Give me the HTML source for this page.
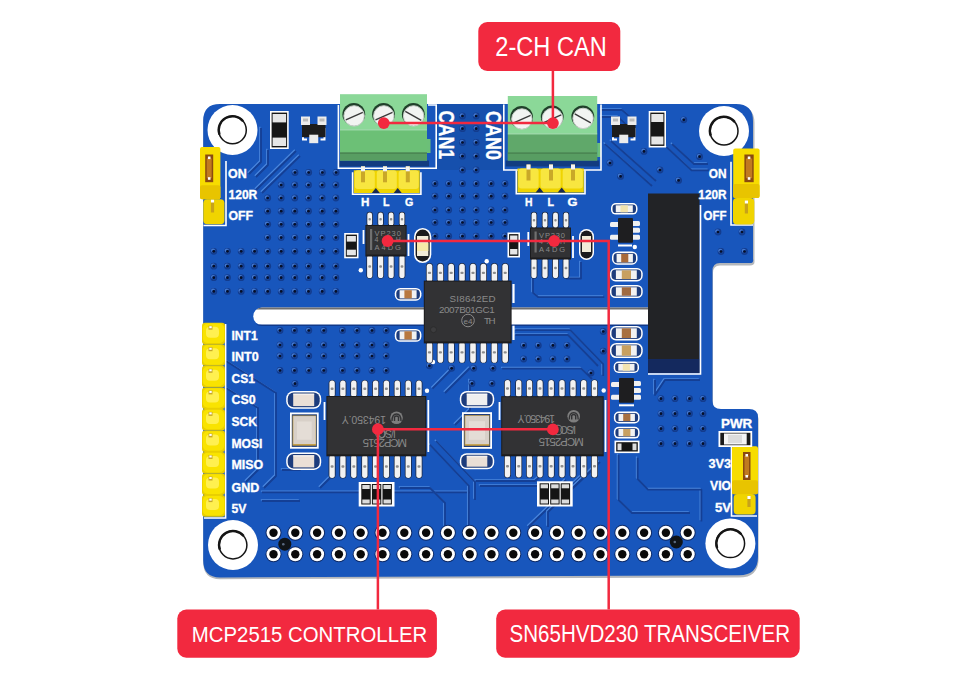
<!DOCTYPE html>
<html><head><meta charset="utf-8">
<style>
html,body{margin:0;padding:0;background:#fff;width:960px;height:683px;overflow:hidden}
svg{display:block}
.sk{font-family:"Liberation Sans",sans-serif;font-weight:bold;fill:#fff;stroke:#fff;stroke-width:0.35px}
.lb{font-family:"Liberation Sans",sans-serif;fill:#fff}
.ct{font-family:"Liberation Sans",sans-serif;fill:#8c8c8c}
</style></head><body>
<svg width="960" height="683" viewBox="0 0 960 683">
<path d="M220,105.5 H737 Q754.5,105.5 754.5,123 V261 Q755,265.5 750,265.5 H720 Q713,265.5 713,273 V403 Q713,410.5 721,410.5 H749 Q758.3,410.5 758.6,419 V558 Q758.8,577.5 739,577.5 L220,579.2 Q203.2,579.2 203.2,562 V123 Q203.2,105.5 220,105.5 Z" fill="#b4b7bb"/>
<path d="M220,104 H736 Q753,104 753,121 V259 Q754,263 750,263 H720 Q712.5,263 712.5,271 V401 Q712.5,409 721,409 H749 Q757.8,409 758,417 V556 Q758.3,575.3 739,575.3 L220,577.4 Q203.2,577.4 203.2,560 V121 Q203,104 220,104 Z" fill="#1856bc"/>
<rect x="437" y="104" width="66" height="66" fill="#1650ad"/>
<g id="traces">
<path d="M261,128 V162 L249,174" stroke="#4a86dc" stroke-width="1.3" fill="none" stroke-linejoin="round" transform="translate(-1.2,-1.2)"/>
<path d="M261,128 V162 L249,174" stroke="#143f95" stroke-width="1.8" fill="none" stroke-linejoin="round"/>
<path d="M268,150 V165 L256,177" stroke="#4a86dc" stroke-width="1.3" fill="none" stroke-linejoin="round" transform="translate(-1.2,-1.2)"/>
<path d="M268,150 V165 L256,177" stroke="#143f95" stroke-width="1.8" fill="none" stroke-linejoin="round"/>
<path d="M296,151 L256,190" stroke="#4a86dc" stroke-width="1.3" fill="none" stroke-linejoin="round" transform="translate(-1.2,-1.2)"/>
<path d="M296,151 L256,190" stroke="#143f95" stroke-width="1.8" fill="none" stroke-linejoin="round"/>
<path d="M300,156 L262,193" stroke="#4a86dc" stroke-width="1.3" fill="none" stroke-linejoin="round" transform="translate(-1.2,-1.2)"/>
<path d="M300,156 L262,193" stroke="#143f95" stroke-width="1.8" fill="none" stroke-linejoin="round"/>
<path d="M601,110 H622 L636,122" stroke="#4a86dc" stroke-width="1.3" fill="none" stroke-linejoin="round" transform="translate(-1.2,-1.2)"/>
<path d="M601,110 H622 L636,122" stroke="#143f95" stroke-width="1.8" fill="none" stroke-linejoin="round"/>
<path d="M601,117 H618 L630,128" stroke="#4a86dc" stroke-width="1.3" fill="none" stroke-linejoin="round" transform="translate(-1.2,-1.2)"/>
<path d="M601,117 H618 L630,128" stroke="#143f95" stroke-width="1.8" fill="none" stroke-linejoin="round"/>
<path d="M604.8,143.8 L652,186" stroke="#4a86dc" stroke-width="1.3" fill="none" stroke-linejoin="round" transform="translate(-1.2,-1.2)"/>
<path d="M604.8,143.8 L652,186" stroke="#143f95" stroke-width="1.8" fill="none" stroke-linejoin="round"/>
<path d="M611,141 L656,181" stroke="#4a86dc" stroke-width="1.3" fill="none" stroke-linejoin="round" transform="translate(-1.2,-1.2)"/>
<path d="M611,141 L656,181" stroke="#143f95" stroke-width="1.8" fill="none" stroke-linejoin="round"/>
<path d="M666.5,147 L691.6,170.3 H708.8" stroke="#4a86dc" stroke-width="1.3" fill="none" stroke-linejoin="round" transform="translate(-1.2,-1.2)"/>
<path d="M666.5,147 L691.6,170.3 H708.8" stroke="#143f95" stroke-width="1.8" fill="none" stroke-linejoin="round"/>
<path d="M672,144 L694,164 H708" stroke="#4a86dc" stroke-width="1.3" fill="none" stroke-linejoin="round" transform="translate(-1.2,-1.2)"/>
<path d="M672,144 L694,164 H708" stroke="#143f95" stroke-width="1.8" fill="none" stroke-linejoin="round"/>
<path d="M226,361 L276,393 V476 L264,488" stroke="#4a86dc" stroke-width="1.3" fill="none" stroke-linejoin="round" transform="translate(-1.2,-1.2)"/>
<path d="M226,361 L276,393 V476 L264,488" stroke="#143f95" stroke-width="1.8" fill="none" stroke-linejoin="round"/>
<path d="M226,388 L258,408 V470 L246,482" stroke="#4a86dc" stroke-width="1.3" fill="none" stroke-linejoin="round" transform="translate(-1.2,-1.2)"/>
<path d="M226,388 L258,408 V470 L246,482" stroke="#143f95" stroke-width="1.8" fill="none" stroke-linejoin="round"/>
<path d="M262,492.4 H470" stroke="#4a86dc" stroke-width="1.3" fill="none" stroke-linejoin="round" transform="translate(-1.2,-1.2)"/>
<path d="M262,492.4 H470" stroke="#143f95" stroke-width="1.8" fill="none" stroke-linejoin="round"/>
<path d="M262,501 H300" stroke="#4a86dc" stroke-width="1.3" fill="none" stroke-linejoin="round" transform="translate(-1.2,-1.2)"/>
<path d="M262,501 H300" stroke="#143f95" stroke-width="1.8" fill="none" stroke-linejoin="round"/>
<path d="M429.8,444.6 L468.8,485.9 V527" stroke="#4a86dc" stroke-width="1.3" fill="none" stroke-linejoin="round" transform="translate(-1.2,-1.2)"/>
<path d="M429.8,444.6 L468.8,485.9 V527" stroke="#143f95" stroke-width="1.8" fill="none" stroke-linejoin="round"/>
<path d="M436,441 L475,482 V500" stroke="#4a86dc" stroke-width="1.3" fill="none" stroke-linejoin="round" transform="translate(-1.2,-1.2)"/>
<path d="M436,441 L475,482 V500" stroke="#143f95" stroke-width="1.8" fill="none" stroke-linejoin="round"/>
<path d="M475.7,481 H535 L541,476" stroke="#4a86dc" stroke-width="1.3" fill="none" stroke-linejoin="round" transform="translate(-1.2,-1.2)"/>
<path d="M475.7,481 H535 L541,476" stroke="#143f95" stroke-width="1.8" fill="none" stroke-linejoin="round"/>
<path d="M480,486 H560 L566,480" stroke="#4a86dc" stroke-width="1.3" fill="none" stroke-linejoin="round" transform="translate(-1.2,-1.2)"/>
<path d="M480,486 H560 L566,480" stroke="#143f95" stroke-width="1.8" fill="none" stroke-linejoin="round"/>
<path d="M581,476.7 L528.4,527" stroke="#4a86dc" stroke-width="1.3" fill="none" stroke-linejoin="round" transform="translate(-1.2,-1.2)"/>
<path d="M581,476.7 L528.4,527" stroke="#143f95" stroke-width="1.8" fill="none" stroke-linejoin="round"/>
<path d="M592,470 L548,512 V527" stroke="#4a86dc" stroke-width="1.3" fill="none" stroke-linejoin="round" transform="translate(-1.2,-1.2)"/>
<path d="M592,470 L548,512 V527" stroke="#143f95" stroke-width="1.8" fill="none" stroke-linejoin="round"/>
<path d="M600,462 L560,500" stroke="#4a86dc" stroke-width="1.3" fill="none" stroke-linejoin="round" transform="translate(-1.2,-1.2)"/>
<path d="M600,462 L560,500" stroke="#143f95" stroke-width="1.8" fill="none" stroke-linejoin="round"/>
<path d="M400,488 H430 L445,503 V527" stroke="#4a86dc" stroke-width="1.3" fill="none" stroke-linejoin="round" transform="translate(-1.2,-1.2)"/>
<path d="M400,488 H430 L445,503 V527" stroke="#143f95" stroke-width="1.8" fill="none" stroke-linejoin="round"/>
<path d="M637.7,457.7 V479 L648,489.6 H701.4 V521.4" stroke="#4a86dc" stroke-width="1.3" fill="none" stroke-linejoin="round" transform="translate(-1.2,-1.2)"/>
<path d="M637.7,457.7 V479 L648,489.6 H701.4 V521.4" stroke="#143f95" stroke-width="1.8" fill="none" stroke-linejoin="round"/>
<path d="M618.6,455 V500 L632,513 H690" stroke="#4a86dc" stroke-width="1.3" fill="none" stroke-linejoin="round" transform="translate(-1.2,-1.2)"/>
<path d="M618.6,455 V500 L632,513 H690" stroke="#143f95" stroke-width="1.8" fill="none" stroke-linejoin="round"/>
<path d="M533,274 V292.8 L538.4,297.2 H604.3" stroke="#4a86dc" stroke-width="1.3" fill="none" stroke-linejoin="round" transform="translate(-1.2,-1.2)"/>
<path d="M533,274 V292.8 L538.4,297.2 H604.3" stroke="#143f95" stroke-width="1.8" fill="none" stroke-linejoin="round"/>
<path d="M566,278.5 H581 V262" stroke="#4a86dc" stroke-width="1.3" fill="none" stroke-linejoin="round" transform="translate(-1.2,-1.2)"/>
<path d="M566,278.5 H581 V262" stroke="#143f95" stroke-width="1.8" fill="none" stroke-linejoin="round"/>
<path d="M515.4,330.2 H570.3 L603.2,364.2 V376" stroke="#4a86dc" stroke-width="1.3" fill="none" stroke-linejoin="round" transform="translate(-1.2,-1.2)"/>
<path d="M515.4,330.2 H570.3 L603.2,364.2 V376" stroke="#143f95" stroke-width="1.8" fill="none" stroke-linejoin="round"/>
<path d="M515.4,335 H568 L598,366" stroke="#4a86dc" stroke-width="1.3" fill="none" stroke-linejoin="round" transform="translate(-1.2,-1.2)"/>
<path d="M515.4,335 H568 L598,366" stroke="#143f95" stroke-width="1.8" fill="none" stroke-linejoin="round"/>
<path d="M502.2,368.6 H581.3 L592,379" stroke="#4a86dc" stroke-width="1.3" fill="none" stroke-linejoin="round" transform="translate(-1.2,-1.2)"/>
<path d="M502.2,368.6 H581.3 L592,379" stroke="#143f95" stroke-width="1.8" fill="none" stroke-linejoin="round"/>
<path d="M453,368 L432.5,388.7" stroke="#4a86dc" stroke-width="1.3" fill="none" stroke-linejoin="round" transform="translate(-1.2,-1.2)"/>
<path d="M453,368 L432.5,388.7" stroke="#143f95" stroke-width="1.8" fill="none" stroke-linejoin="round"/>
<path d="M470,368 L445,393" stroke="#4a86dc" stroke-width="1.3" fill="none" stroke-linejoin="round" transform="translate(-1.2,-1.2)"/>
<path d="M470,368 L445,393" stroke="#143f95" stroke-width="1.8" fill="none" stroke-linejoin="round"/>
<path d="M470,380 V410 L455,425" stroke="#4a86dc" stroke-width="1.3" fill="none" stroke-linejoin="round" transform="translate(-1.2,-1.2)"/>
<path d="M470,380 V410 L455,425" stroke="#143f95" stroke-width="1.8" fill="none" stroke-linejoin="round"/>
<path d="M655,380 V395 L665,380 H700" stroke="#4a86dc" stroke-width="1.3" fill="none" stroke-linejoin="round" transform="translate(-1.2,-1.2)"/>
<path d="M655,380 V395 L665,380 H700" stroke="#143f95" stroke-width="1.8" fill="none" stroke-linejoin="round"/>
<path d="M306,456 L300,470 H282" stroke="#4a86dc" stroke-width="1.3" fill="none" stroke-linejoin="round" transform="translate(-1.2,-1.2)"/>
<path d="M306,456 L300,470 H282" stroke="#143f95" stroke-width="1.8" fill="none" stroke-linejoin="round"/>
<path d="M330,478 L320,488" stroke="#4a86dc" stroke-width="1.3" fill="none" stroke-linejoin="round" transform="translate(-1.2,-1.2)"/>
<path d="M330,478 L320,488" stroke="#143f95" stroke-width="1.8" fill="none" stroke-linejoin="round"/>
</g>
<g id="vias">
<circle cx="295" cy="172.5" r="3.4" fill="#133c8e"/><circle cx="294.3" cy="171.8" r="2.1" fill="#4278d0"/><circle cx="295.3" cy="172.8" r="1.9" fill="#16449a"/><circle cx="295" cy="172.5" r="1.35" fill="#060f28"/>
<circle cx="308.7" cy="172.5" r="3.4" fill="#133c8e"/><circle cx="308.0" cy="171.8" r="2.1" fill="#4278d0"/><circle cx="309.0" cy="172.8" r="1.9" fill="#16449a"/><circle cx="308.7" cy="172.5" r="1.35" fill="#060f28"/>
<circle cx="322.4" cy="172.5" r="3.4" fill="#133c8e"/><circle cx="321.7" cy="171.8" r="2.1" fill="#4278d0"/><circle cx="322.7" cy="172.8" r="1.9" fill="#16449a"/><circle cx="322.4" cy="172.5" r="1.35" fill="#060f28"/>
<circle cx="336.1" cy="172.5" r="3.4" fill="#133c8e"/><circle cx="335.40000000000003" cy="171.8" r="2.1" fill="#4278d0"/><circle cx="336.40000000000003" cy="172.8" r="1.9" fill="#16449a"/><circle cx="336.1" cy="172.5" r="1.35" fill="#060f28"/>
<circle cx="281.2" cy="185" r="3.4" fill="#133c8e"/><circle cx="280.5" cy="184.3" r="2.1" fill="#4278d0"/><circle cx="281.5" cy="185.3" r="1.9" fill="#16449a"/><circle cx="281.2" cy="185" r="1.35" fill="#060f28"/>
<circle cx="294.8" cy="185" r="3.4" fill="#133c8e"/><circle cx="294.1" cy="184.3" r="2.1" fill="#4278d0"/><circle cx="295.1" cy="185.3" r="1.9" fill="#16449a"/><circle cx="294.8" cy="185" r="1.35" fill="#060f28"/>
<circle cx="308.5" cy="185" r="3.4" fill="#133c8e"/><circle cx="307.8" cy="184.3" r="2.1" fill="#4278d0"/><circle cx="308.8" cy="185.3" r="1.9" fill="#16449a"/><circle cx="308.5" cy="185" r="1.35" fill="#060f28"/>
<circle cx="322.2" cy="185" r="3.4" fill="#133c8e"/><circle cx="321.5" cy="184.3" r="2.1" fill="#4278d0"/><circle cx="322.5" cy="185.3" r="1.9" fill="#16449a"/><circle cx="322.2" cy="185" r="1.35" fill="#060f28"/>
<circle cx="335.9" cy="185" r="3.4" fill="#133c8e"/><circle cx="335.2" cy="184.3" r="2.1" fill="#4278d0"/><circle cx="336.2" cy="185.3" r="1.9" fill="#16449a"/><circle cx="335.9" cy="185" r="1.35" fill="#060f28"/>
<circle cx="267.7" cy="198" r="3.4" fill="#133c8e"/><circle cx="267.0" cy="197.3" r="2.1" fill="#4278d0"/><circle cx="268.0" cy="198.3" r="1.9" fill="#16449a"/><circle cx="267.7" cy="198" r="1.35" fill="#060f28"/>
<circle cx="281.2" cy="198" r="3.4" fill="#133c8e"/><circle cx="280.5" cy="197.3" r="2.1" fill="#4278d0"/><circle cx="281.5" cy="198.3" r="1.9" fill="#16449a"/><circle cx="281.2" cy="198" r="1.35" fill="#060f28"/>
<circle cx="294.8" cy="198" r="3.4" fill="#133c8e"/><circle cx="294.1" cy="197.3" r="2.1" fill="#4278d0"/><circle cx="295.1" cy="198.3" r="1.9" fill="#16449a"/><circle cx="294.8" cy="198" r="1.35" fill="#060f28"/>
<circle cx="308.5" cy="198" r="3.4" fill="#133c8e"/><circle cx="307.8" cy="197.3" r="2.1" fill="#4278d0"/><circle cx="308.8" cy="198.3" r="1.9" fill="#16449a"/><circle cx="308.5" cy="198" r="1.35" fill="#060f28"/>
<circle cx="322.2" cy="198" r="3.4" fill="#133c8e"/><circle cx="321.5" cy="197.3" r="2.1" fill="#4278d0"/><circle cx="322.5" cy="198.3" r="1.9" fill="#16449a"/><circle cx="322.2" cy="198" r="1.35" fill="#060f28"/>
<circle cx="335.9" cy="198" r="3.4" fill="#133c8e"/><circle cx="335.2" cy="197.3" r="2.1" fill="#4278d0"/><circle cx="336.2" cy="198.3" r="1.9" fill="#16449a"/><circle cx="335.9" cy="198" r="1.35" fill="#060f28"/>
<circle cx="267.7" cy="211.2" r="3.4" fill="#133c8e"/><circle cx="267.0" cy="210.5" r="2.1" fill="#4278d0"/><circle cx="268.0" cy="211.5" r="1.9" fill="#16449a"/><circle cx="267.7" cy="211.2" r="1.35" fill="#060f28"/>
<circle cx="281.2" cy="211.2" r="3.4" fill="#133c8e"/><circle cx="280.5" cy="210.5" r="2.1" fill="#4278d0"/><circle cx="281.5" cy="211.5" r="1.9" fill="#16449a"/><circle cx="281.2" cy="211.2" r="1.35" fill="#060f28"/>
<circle cx="294.8" cy="211.2" r="3.4" fill="#133c8e"/><circle cx="294.1" cy="210.5" r="2.1" fill="#4278d0"/><circle cx="295.1" cy="211.5" r="1.9" fill="#16449a"/><circle cx="294.8" cy="211.2" r="1.35" fill="#060f28"/>
<circle cx="308.5" cy="211.2" r="3.4" fill="#133c8e"/><circle cx="307.8" cy="210.5" r="2.1" fill="#4278d0"/><circle cx="308.8" cy="211.5" r="1.9" fill="#16449a"/><circle cx="308.5" cy="211.2" r="1.35" fill="#060f28"/>
<circle cx="322.2" cy="211.2" r="3.4" fill="#133c8e"/><circle cx="321.5" cy="210.5" r="2.1" fill="#4278d0"/><circle cx="322.5" cy="211.5" r="1.9" fill="#16449a"/><circle cx="322.2" cy="211.2" r="1.35" fill="#060f28"/>
<circle cx="335.9" cy="211.2" r="3.4" fill="#133c8e"/><circle cx="335.2" cy="210.5" r="2.1" fill="#4278d0"/><circle cx="336.2" cy="211.5" r="1.9" fill="#16449a"/><circle cx="335.9" cy="211.2" r="1.35" fill="#060f28"/>
<circle cx="267.7" cy="224.3" r="3.4" fill="#133c8e"/><circle cx="267.0" cy="223.60000000000002" r="2.1" fill="#4278d0"/><circle cx="268.0" cy="224.60000000000002" r="1.9" fill="#16449a"/><circle cx="267.7" cy="224.3" r="1.35" fill="#060f28"/>
<circle cx="281.2" cy="224.3" r="3.4" fill="#133c8e"/><circle cx="280.5" cy="223.60000000000002" r="2.1" fill="#4278d0"/><circle cx="281.5" cy="224.60000000000002" r="1.9" fill="#16449a"/><circle cx="281.2" cy="224.3" r="1.35" fill="#060f28"/>
<circle cx="294.8" cy="224.3" r="3.4" fill="#133c8e"/><circle cx="294.1" cy="223.60000000000002" r="2.1" fill="#4278d0"/><circle cx="295.1" cy="224.60000000000002" r="1.9" fill="#16449a"/><circle cx="294.8" cy="224.3" r="1.35" fill="#060f28"/>
<circle cx="308.5" cy="224.3" r="3.4" fill="#133c8e"/><circle cx="307.8" cy="223.60000000000002" r="2.1" fill="#4278d0"/><circle cx="308.8" cy="224.60000000000002" r="1.9" fill="#16449a"/><circle cx="308.5" cy="224.3" r="1.35" fill="#060f28"/>
<circle cx="322.2" cy="224.3" r="3.4" fill="#133c8e"/><circle cx="321.5" cy="223.60000000000002" r="2.1" fill="#4278d0"/><circle cx="322.5" cy="224.60000000000002" r="1.9" fill="#16449a"/><circle cx="322.2" cy="224.3" r="1.35" fill="#060f28"/>
<circle cx="335.9" cy="224.3" r="3.4" fill="#133c8e"/><circle cx="335.2" cy="223.60000000000002" r="2.1" fill="#4278d0"/><circle cx="336.2" cy="224.60000000000002" r="1.9" fill="#16449a"/><circle cx="335.9" cy="224.3" r="1.35" fill="#060f28"/>
<circle cx="267.7" cy="237.6" r="3.4" fill="#133c8e"/><circle cx="267.0" cy="236.9" r="2.1" fill="#4278d0"/><circle cx="268.0" cy="237.9" r="1.9" fill="#16449a"/><circle cx="267.7" cy="237.6" r="1.35" fill="#060f28"/>
<circle cx="281.2" cy="237.6" r="3.4" fill="#133c8e"/><circle cx="280.5" cy="236.9" r="2.1" fill="#4278d0"/><circle cx="281.5" cy="237.9" r="1.9" fill="#16449a"/><circle cx="281.2" cy="237.6" r="1.35" fill="#060f28"/>
<circle cx="294.8" cy="237.6" r="3.4" fill="#133c8e"/><circle cx="294.1" cy="236.9" r="2.1" fill="#4278d0"/><circle cx="295.1" cy="237.9" r="1.9" fill="#16449a"/><circle cx="294.8" cy="237.6" r="1.35" fill="#060f28"/>
<circle cx="308.5" cy="237.6" r="3.4" fill="#133c8e"/><circle cx="307.8" cy="236.9" r="2.1" fill="#4278d0"/><circle cx="308.8" cy="237.9" r="1.9" fill="#16449a"/><circle cx="308.5" cy="237.6" r="1.35" fill="#060f28"/>
<circle cx="322.2" cy="237.6" r="3.4" fill="#133c8e"/><circle cx="321.5" cy="236.9" r="2.1" fill="#4278d0"/><circle cx="322.5" cy="237.9" r="1.9" fill="#16449a"/><circle cx="322.2" cy="237.6" r="1.35" fill="#060f28"/>
<circle cx="335.9" cy="237.6" r="3.4" fill="#133c8e"/><circle cx="335.2" cy="236.9" r="2.1" fill="#4278d0"/><circle cx="336.2" cy="237.9" r="1.9" fill="#16449a"/><circle cx="335.9" cy="237.6" r="1.35" fill="#060f28"/>
<circle cx="213.8" cy="251.3" r="3.4" fill="#133c8e"/><circle cx="213.10000000000002" cy="250.60000000000002" r="2.1" fill="#4278d0"/><circle cx="214.10000000000002" cy="251.60000000000002" r="1.9" fill="#16449a"/><circle cx="213.8" cy="251.3" r="1.35" fill="#060f28"/>
<circle cx="227.5" cy="251.3" r="3.4" fill="#133c8e"/><circle cx="226.8" cy="250.60000000000002" r="2.1" fill="#4278d0"/><circle cx="227.8" cy="251.60000000000002" r="1.9" fill="#16449a"/><circle cx="227.5" cy="251.3" r="1.35" fill="#060f28"/>
<circle cx="241.2" cy="251.3" r="3.4" fill="#133c8e"/><circle cx="240.5" cy="250.60000000000002" r="2.1" fill="#4278d0"/><circle cx="241.5" cy="251.60000000000002" r="1.9" fill="#16449a"/><circle cx="241.2" cy="251.3" r="1.35" fill="#060f28"/>
<circle cx="254.6" cy="251.3" r="3.4" fill="#133c8e"/><circle cx="253.9" cy="250.60000000000002" r="2.1" fill="#4278d0"/><circle cx="254.9" cy="251.60000000000002" r="1.9" fill="#16449a"/><circle cx="254.6" cy="251.3" r="1.35" fill="#060f28"/>
<circle cx="267.7" cy="251.3" r="3.4" fill="#133c8e"/><circle cx="267.0" cy="250.60000000000002" r="2.1" fill="#4278d0"/><circle cx="268.0" cy="251.60000000000002" r="1.9" fill="#16449a"/><circle cx="267.7" cy="251.3" r="1.35" fill="#060f28"/>
<circle cx="281.2" cy="251.3" r="3.4" fill="#133c8e"/><circle cx="280.5" cy="250.60000000000002" r="2.1" fill="#4278d0"/><circle cx="281.5" cy="251.60000000000002" r="1.9" fill="#16449a"/><circle cx="281.2" cy="251.3" r="1.35" fill="#060f28"/>
<circle cx="294.8" cy="251.3" r="3.4" fill="#133c8e"/><circle cx="294.1" cy="250.60000000000002" r="2.1" fill="#4278d0"/><circle cx="295.1" cy="251.60000000000002" r="1.9" fill="#16449a"/><circle cx="294.8" cy="251.3" r="1.35" fill="#060f28"/>
<circle cx="308.5" cy="251.3" r="3.4" fill="#133c8e"/><circle cx="307.8" cy="250.60000000000002" r="2.1" fill="#4278d0"/><circle cx="308.8" cy="251.60000000000002" r="1.9" fill="#16449a"/><circle cx="308.5" cy="251.3" r="1.35" fill="#060f28"/>
<circle cx="322.2" cy="251.3" r="3.4" fill="#133c8e"/><circle cx="321.5" cy="250.60000000000002" r="2.1" fill="#4278d0"/><circle cx="322.5" cy="251.60000000000002" r="1.9" fill="#16449a"/><circle cx="322.2" cy="251.3" r="1.35" fill="#060f28"/>
<circle cx="335.9" cy="251.3" r="3.4" fill="#133c8e"/><circle cx="335.2" cy="250.60000000000002" r="2.1" fill="#4278d0"/><circle cx="336.2" cy="251.60000000000002" r="1.9" fill="#16449a"/><circle cx="335.9" cy="251.3" r="1.35" fill="#060f28"/>
<circle cx="213.8" cy="266.2" r="3.4" fill="#133c8e"/><circle cx="213.10000000000002" cy="265.5" r="2.1" fill="#4278d0"/><circle cx="214.10000000000002" cy="266.5" r="1.9" fill="#16449a"/><circle cx="213.8" cy="266.2" r="1.35" fill="#060f28"/>
<circle cx="227.5" cy="266.2" r="3.4" fill="#133c8e"/><circle cx="226.8" cy="265.5" r="2.1" fill="#4278d0"/><circle cx="227.8" cy="266.5" r="1.9" fill="#16449a"/><circle cx="227.5" cy="266.2" r="1.35" fill="#060f28"/>
<circle cx="241.2" cy="266.2" r="3.4" fill="#133c8e"/><circle cx="240.5" cy="265.5" r="2.1" fill="#4278d0"/><circle cx="241.5" cy="266.5" r="1.9" fill="#16449a"/><circle cx="241.2" cy="266.2" r="1.35" fill="#060f28"/>
<circle cx="254.6" cy="266.2" r="3.4" fill="#133c8e"/><circle cx="253.9" cy="265.5" r="2.1" fill="#4278d0"/><circle cx="254.9" cy="266.5" r="1.9" fill="#16449a"/><circle cx="254.6" cy="266.2" r="1.35" fill="#060f28"/>
<circle cx="267.7" cy="266.2" r="3.4" fill="#133c8e"/><circle cx="267.0" cy="265.5" r="2.1" fill="#4278d0"/><circle cx="268.0" cy="266.5" r="1.9" fill="#16449a"/><circle cx="267.7" cy="266.2" r="1.35" fill="#060f28"/>
<circle cx="281.2" cy="266.2" r="3.4" fill="#133c8e"/><circle cx="280.5" cy="265.5" r="2.1" fill="#4278d0"/><circle cx="281.5" cy="266.5" r="1.9" fill="#16449a"/><circle cx="281.2" cy="266.2" r="1.35" fill="#060f28"/>
<circle cx="294.8" cy="266.2" r="3.4" fill="#133c8e"/><circle cx="294.1" cy="265.5" r="2.1" fill="#4278d0"/><circle cx="295.1" cy="266.5" r="1.9" fill="#16449a"/><circle cx="294.8" cy="266.2" r="1.35" fill="#060f28"/>
<circle cx="308.5" cy="266.2" r="3.4" fill="#133c8e"/><circle cx="307.8" cy="265.5" r="2.1" fill="#4278d0"/><circle cx="308.8" cy="266.5" r="1.9" fill="#16449a"/><circle cx="308.5" cy="266.2" r="1.35" fill="#060f28"/>
<circle cx="322.2" cy="266.2" r="3.4" fill="#133c8e"/><circle cx="321.5" cy="265.5" r="2.1" fill="#4278d0"/><circle cx="322.5" cy="266.5" r="1.9" fill="#16449a"/><circle cx="322.2" cy="266.2" r="1.35" fill="#060f28"/>
<circle cx="335.9" cy="266.2" r="3.4" fill="#133c8e"/><circle cx="335.2" cy="265.5" r="2.1" fill="#4278d0"/><circle cx="336.2" cy="266.5" r="1.9" fill="#16449a"/><circle cx="335.9" cy="266.2" r="1.35" fill="#060f28"/>
<circle cx="213.8" cy="277.7" r="3.4" fill="#133c8e"/><circle cx="213.10000000000002" cy="277.0" r="2.1" fill="#4278d0"/><circle cx="214.10000000000002" cy="278.0" r="1.9" fill="#16449a"/><circle cx="213.8" cy="277.7" r="1.35" fill="#060f28"/>
<circle cx="227.5" cy="277.7" r="3.4" fill="#133c8e"/><circle cx="226.8" cy="277.0" r="2.1" fill="#4278d0"/><circle cx="227.8" cy="278.0" r="1.9" fill="#16449a"/><circle cx="227.5" cy="277.7" r="1.35" fill="#060f28"/>
<circle cx="241.2" cy="277.7" r="3.4" fill="#133c8e"/><circle cx="240.5" cy="277.0" r="2.1" fill="#4278d0"/><circle cx="241.5" cy="278.0" r="1.9" fill="#16449a"/><circle cx="241.2" cy="277.7" r="1.35" fill="#060f28"/>
<circle cx="254.6" cy="277.7" r="3.4" fill="#133c8e"/><circle cx="253.9" cy="277.0" r="2.1" fill="#4278d0"/><circle cx="254.9" cy="278.0" r="1.9" fill="#16449a"/><circle cx="254.6" cy="277.7" r="1.35" fill="#060f28"/>
<circle cx="267.7" cy="277.7" r="3.4" fill="#133c8e"/><circle cx="267.0" cy="277.0" r="2.1" fill="#4278d0"/><circle cx="268.0" cy="278.0" r="1.9" fill="#16449a"/><circle cx="267.7" cy="277.7" r="1.35" fill="#060f28"/>
<circle cx="281.2" cy="277.7" r="3.4" fill="#133c8e"/><circle cx="280.5" cy="277.0" r="2.1" fill="#4278d0"/><circle cx="281.5" cy="278.0" r="1.9" fill="#16449a"/><circle cx="281.2" cy="277.7" r="1.35" fill="#060f28"/>
<circle cx="294.8" cy="277.7" r="3.4" fill="#133c8e"/><circle cx="294.1" cy="277.0" r="2.1" fill="#4278d0"/><circle cx="295.1" cy="278.0" r="1.9" fill="#16449a"/><circle cx="294.8" cy="277.7" r="1.35" fill="#060f28"/>
<circle cx="308.5" cy="277.7" r="3.4" fill="#133c8e"/><circle cx="307.8" cy="277.0" r="2.1" fill="#4278d0"/><circle cx="308.8" cy="278.0" r="1.9" fill="#16449a"/><circle cx="308.5" cy="277.7" r="1.35" fill="#060f28"/>
<circle cx="322.2" cy="277.7" r="3.4" fill="#133c8e"/><circle cx="321.5" cy="277.0" r="2.1" fill="#4278d0"/><circle cx="322.5" cy="278.0" r="1.9" fill="#16449a"/><circle cx="322.2" cy="277.7" r="1.35" fill="#060f28"/>
<circle cx="335.9" cy="277.7" r="3.4" fill="#133c8e"/><circle cx="335.2" cy="277.0" r="2.1" fill="#4278d0"/><circle cx="336.2" cy="278.0" r="1.9" fill="#16449a"/><circle cx="335.9" cy="277.7" r="1.35" fill="#060f28"/>
<circle cx="213.8" cy="291.4" r="3.4" fill="#133c8e"/><circle cx="213.10000000000002" cy="290.7" r="2.1" fill="#4278d0"/><circle cx="214.10000000000002" cy="291.7" r="1.9" fill="#16449a"/><circle cx="213.8" cy="291.4" r="1.35" fill="#060f28"/>
<circle cx="227.5" cy="291.4" r="3.4" fill="#133c8e"/><circle cx="226.8" cy="290.7" r="2.1" fill="#4278d0"/><circle cx="227.8" cy="291.7" r="1.9" fill="#16449a"/><circle cx="227.5" cy="291.4" r="1.35" fill="#060f28"/>
<circle cx="241.2" cy="291.4" r="3.4" fill="#133c8e"/><circle cx="240.5" cy="290.7" r="2.1" fill="#4278d0"/><circle cx="241.5" cy="291.7" r="1.9" fill="#16449a"/><circle cx="241.2" cy="291.4" r="1.35" fill="#060f28"/>
<circle cx="254.6" cy="291.4" r="3.4" fill="#133c8e"/><circle cx="253.9" cy="290.7" r="2.1" fill="#4278d0"/><circle cx="254.9" cy="291.7" r="1.9" fill="#16449a"/><circle cx="254.6" cy="291.4" r="1.35" fill="#060f28"/>
<circle cx="267.7" cy="291.4" r="3.4" fill="#133c8e"/><circle cx="267.0" cy="290.7" r="2.1" fill="#4278d0"/><circle cx="268.0" cy="291.7" r="1.9" fill="#16449a"/><circle cx="267.7" cy="291.4" r="1.35" fill="#060f28"/>
<circle cx="281.2" cy="291.4" r="3.4" fill="#133c8e"/><circle cx="280.5" cy="290.7" r="2.1" fill="#4278d0"/><circle cx="281.5" cy="291.7" r="1.9" fill="#16449a"/><circle cx="281.2" cy="291.4" r="1.35" fill="#060f28"/>
<circle cx="294.8" cy="291.4" r="3.4" fill="#133c8e"/><circle cx="294.1" cy="290.7" r="2.1" fill="#4278d0"/><circle cx="295.1" cy="291.7" r="1.9" fill="#16449a"/><circle cx="294.8" cy="291.4" r="1.35" fill="#060f28"/>
<circle cx="308.5" cy="291.4" r="3.4" fill="#133c8e"/><circle cx="307.8" cy="290.7" r="2.1" fill="#4278d0"/><circle cx="308.8" cy="291.7" r="1.9" fill="#16449a"/><circle cx="308.5" cy="291.4" r="1.35" fill="#060f28"/>
<circle cx="322.2" cy="291.4" r="3.4" fill="#133c8e"/><circle cx="321.5" cy="290.7" r="2.1" fill="#4278d0"/><circle cx="322.5" cy="291.7" r="1.9" fill="#16449a"/><circle cx="322.2" cy="291.4" r="1.35" fill="#060f28"/>
<circle cx="335.9" cy="291.4" r="3.4" fill="#133c8e"/><circle cx="335.2" cy="290.7" r="2.1" fill="#4278d0"/><circle cx="336.2" cy="291.7" r="1.9" fill="#16449a"/><circle cx="335.9" cy="291.4" r="1.35" fill="#060f28"/>
<circle cx="462.5" cy="116" r="3.4" fill="#133c8e"/><circle cx="461.8" cy="115.3" r="2.1" fill="#4278d0"/><circle cx="462.8" cy="116.3" r="1.9" fill="#16449a"/><circle cx="462.5" cy="116" r="1.35" fill="#060f28"/>
<circle cx="476.2" cy="116" r="3.4" fill="#133c8e"/><circle cx="475.5" cy="115.3" r="2.1" fill="#4278d0"/><circle cx="476.5" cy="116.3" r="1.9" fill="#16449a"/><circle cx="476.2" cy="116" r="1.35" fill="#060f28"/>
<circle cx="462.5" cy="128.7" r="3.4" fill="#133c8e"/><circle cx="461.8" cy="127.99999999999999" r="2.1" fill="#4278d0"/><circle cx="462.8" cy="129.0" r="1.9" fill="#16449a"/><circle cx="462.5" cy="128.7" r="1.35" fill="#060f28"/>
<circle cx="476.2" cy="128.7" r="3.4" fill="#133c8e"/><circle cx="475.5" cy="127.99999999999999" r="2.1" fill="#4278d0"/><circle cx="476.5" cy="129.0" r="1.9" fill="#16449a"/><circle cx="476.2" cy="128.7" r="1.35" fill="#060f28"/>
<circle cx="462.5" cy="142.5" r="3.4" fill="#133c8e"/><circle cx="461.8" cy="141.8" r="2.1" fill="#4278d0"/><circle cx="462.8" cy="142.8" r="1.9" fill="#16449a"/><circle cx="462.5" cy="142.5" r="1.35" fill="#060f28"/>
<circle cx="476.2" cy="142.5" r="3.4" fill="#133c8e"/><circle cx="475.5" cy="141.8" r="2.1" fill="#4278d0"/><circle cx="476.5" cy="142.8" r="1.9" fill="#16449a"/><circle cx="476.2" cy="142.5" r="1.35" fill="#060f28"/>
<circle cx="462.5" cy="156.2" r="3.4" fill="#133c8e"/><circle cx="461.8" cy="155.5" r="2.1" fill="#4278d0"/><circle cx="462.8" cy="156.5" r="1.9" fill="#16449a"/><circle cx="462.5" cy="156.2" r="1.35" fill="#060f28"/>
<circle cx="476.2" cy="156.2" r="3.4" fill="#133c8e"/><circle cx="475.5" cy="155.5" r="2.1" fill="#4278d0"/><circle cx="476.5" cy="156.5" r="1.9" fill="#16449a"/><circle cx="476.2" cy="156.2" r="1.35" fill="#060f28"/>
<circle cx="462.5" cy="170" r="3.4" fill="#133c8e"/><circle cx="461.8" cy="169.3" r="2.1" fill="#4278d0"/><circle cx="462.8" cy="170.3" r="1.9" fill="#16449a"/><circle cx="462.5" cy="170" r="1.35" fill="#060f28"/>
<circle cx="476.2" cy="170" r="3.4" fill="#133c8e"/><circle cx="475.5" cy="169.3" r="2.1" fill="#4278d0"/><circle cx="476.5" cy="170.3" r="1.9" fill="#16449a"/><circle cx="476.2" cy="170" r="1.35" fill="#060f28"/>
<circle cx="435" cy="183.7" r="3.4" fill="#133c8e"/><circle cx="434.3" cy="183.0" r="2.1" fill="#4278d0"/><circle cx="435.3" cy="184.0" r="1.9" fill="#16449a"/><circle cx="435" cy="183.7" r="1.35" fill="#060f28"/>
<circle cx="448.7" cy="183.7" r="3.4" fill="#133c8e"/><circle cx="448.0" cy="183.0" r="2.1" fill="#4278d0"/><circle cx="449.0" cy="184.0" r="1.9" fill="#16449a"/><circle cx="448.7" cy="183.7" r="1.35" fill="#060f28"/>
<circle cx="462.5" cy="183.7" r="3.4" fill="#133c8e"/><circle cx="461.8" cy="183.0" r="2.1" fill="#4278d0"/><circle cx="462.8" cy="184.0" r="1.9" fill="#16449a"/><circle cx="462.5" cy="183.7" r="1.35" fill="#060f28"/>
<circle cx="476.2" cy="183.7" r="3.4" fill="#133c8e"/><circle cx="475.5" cy="183.0" r="2.1" fill="#4278d0"/><circle cx="476.5" cy="184.0" r="1.9" fill="#16449a"/><circle cx="476.2" cy="183.7" r="1.35" fill="#060f28"/>
<circle cx="491.2" cy="183.7" r="3.4" fill="#133c8e"/><circle cx="490.5" cy="183.0" r="2.1" fill="#4278d0"/><circle cx="491.5" cy="184.0" r="1.9" fill="#16449a"/><circle cx="491.2" cy="183.7" r="1.35" fill="#060f28"/>
<circle cx="505" cy="183.7" r="3.4" fill="#133c8e"/><circle cx="504.3" cy="183.0" r="2.1" fill="#4278d0"/><circle cx="505.3" cy="184.0" r="1.9" fill="#16449a"/><circle cx="505" cy="183.7" r="1.35" fill="#060f28"/>
<circle cx="435" cy="196.2" r="3.4" fill="#133c8e"/><circle cx="434.3" cy="195.5" r="2.1" fill="#4278d0"/><circle cx="435.3" cy="196.5" r="1.9" fill="#16449a"/><circle cx="435" cy="196.2" r="1.35" fill="#060f28"/>
<circle cx="448.7" cy="196.2" r="3.4" fill="#133c8e"/><circle cx="448.0" cy="195.5" r="2.1" fill="#4278d0"/><circle cx="449.0" cy="196.5" r="1.9" fill="#16449a"/><circle cx="448.7" cy="196.2" r="1.35" fill="#060f28"/>
<circle cx="462.5" cy="196.2" r="3.4" fill="#133c8e"/><circle cx="461.8" cy="195.5" r="2.1" fill="#4278d0"/><circle cx="462.8" cy="196.5" r="1.9" fill="#16449a"/><circle cx="462.5" cy="196.2" r="1.35" fill="#060f28"/>
<circle cx="476.2" cy="196.2" r="3.4" fill="#133c8e"/><circle cx="475.5" cy="195.5" r="2.1" fill="#4278d0"/><circle cx="476.5" cy="196.5" r="1.9" fill="#16449a"/><circle cx="476.2" cy="196.2" r="1.35" fill="#060f28"/>
<circle cx="491.2" cy="196.2" r="3.4" fill="#133c8e"/><circle cx="490.5" cy="195.5" r="2.1" fill="#4278d0"/><circle cx="491.5" cy="196.5" r="1.9" fill="#16449a"/><circle cx="491.2" cy="196.2" r="1.35" fill="#060f28"/>
<circle cx="505" cy="196.2" r="3.4" fill="#133c8e"/><circle cx="504.3" cy="195.5" r="2.1" fill="#4278d0"/><circle cx="505.3" cy="196.5" r="1.9" fill="#16449a"/><circle cx="505" cy="196.2" r="1.35" fill="#060f28"/>
<circle cx="435" cy="210" r="3.4" fill="#133c8e"/><circle cx="434.3" cy="209.3" r="2.1" fill="#4278d0"/><circle cx="435.3" cy="210.3" r="1.9" fill="#16449a"/><circle cx="435" cy="210" r="1.35" fill="#060f28"/>
<circle cx="448.7" cy="210" r="3.4" fill="#133c8e"/><circle cx="448.0" cy="209.3" r="2.1" fill="#4278d0"/><circle cx="449.0" cy="210.3" r="1.9" fill="#16449a"/><circle cx="448.7" cy="210" r="1.35" fill="#060f28"/>
<circle cx="462.5" cy="210" r="3.4" fill="#133c8e"/><circle cx="461.8" cy="209.3" r="2.1" fill="#4278d0"/><circle cx="462.8" cy="210.3" r="1.9" fill="#16449a"/><circle cx="462.5" cy="210" r="1.35" fill="#060f28"/>
<circle cx="476.2" cy="210" r="3.4" fill="#133c8e"/><circle cx="475.5" cy="209.3" r="2.1" fill="#4278d0"/><circle cx="476.5" cy="210.3" r="1.9" fill="#16449a"/><circle cx="476.2" cy="210" r="1.35" fill="#060f28"/>
<circle cx="491.2" cy="210" r="3.4" fill="#133c8e"/><circle cx="490.5" cy="209.3" r="2.1" fill="#4278d0"/><circle cx="491.5" cy="210.3" r="1.9" fill="#16449a"/><circle cx="491.2" cy="210" r="1.35" fill="#060f28"/>
<circle cx="505" cy="210" r="3.4" fill="#133c8e"/><circle cx="504.3" cy="209.3" r="2.1" fill="#4278d0"/><circle cx="505.3" cy="210.3" r="1.9" fill="#16449a"/><circle cx="505" cy="210" r="1.35" fill="#060f28"/>
<circle cx="435" cy="222.5" r="3.4" fill="#133c8e"/><circle cx="434.3" cy="221.8" r="2.1" fill="#4278d0"/><circle cx="435.3" cy="222.8" r="1.9" fill="#16449a"/><circle cx="435" cy="222.5" r="1.35" fill="#060f28"/>
<circle cx="448.7" cy="222.5" r="3.4" fill="#133c8e"/><circle cx="448.0" cy="221.8" r="2.1" fill="#4278d0"/><circle cx="449.0" cy="222.8" r="1.9" fill="#16449a"/><circle cx="448.7" cy="222.5" r="1.35" fill="#060f28"/>
<circle cx="462.5" cy="222.5" r="3.4" fill="#133c8e"/><circle cx="461.8" cy="221.8" r="2.1" fill="#4278d0"/><circle cx="462.8" cy="222.8" r="1.9" fill="#16449a"/><circle cx="462.5" cy="222.5" r="1.35" fill="#060f28"/>
<circle cx="476.2" cy="222.5" r="3.4" fill="#133c8e"/><circle cx="475.5" cy="221.8" r="2.1" fill="#4278d0"/><circle cx="476.5" cy="222.8" r="1.9" fill="#16449a"/><circle cx="476.2" cy="222.5" r="1.35" fill="#060f28"/>
<circle cx="491.2" cy="222.5" r="3.4" fill="#133c8e"/><circle cx="490.5" cy="221.8" r="2.1" fill="#4278d0"/><circle cx="491.5" cy="222.8" r="1.9" fill="#16449a"/><circle cx="491.2" cy="222.5" r="1.35" fill="#060f28"/>
<circle cx="505" cy="222.5" r="3.4" fill="#133c8e"/><circle cx="504.3" cy="221.8" r="2.1" fill="#4278d0"/><circle cx="505.3" cy="222.8" r="1.9" fill="#16449a"/><circle cx="505" cy="222.5" r="1.35" fill="#060f28"/>
<circle cx="435" cy="236.2" r="3.4" fill="#133c8e"/><circle cx="434.3" cy="235.5" r="2.1" fill="#4278d0"/><circle cx="435.3" cy="236.5" r="1.9" fill="#16449a"/><circle cx="435" cy="236.2" r="1.35" fill="#060f28"/>
<circle cx="448.7" cy="236.2" r="3.4" fill="#133c8e"/><circle cx="448.0" cy="235.5" r="2.1" fill="#4278d0"/><circle cx="449.0" cy="236.5" r="1.9" fill="#16449a"/><circle cx="448.7" cy="236.2" r="1.35" fill="#060f28"/>
<circle cx="462.5" cy="236.2" r="3.4" fill="#133c8e"/><circle cx="461.8" cy="235.5" r="2.1" fill="#4278d0"/><circle cx="462.8" cy="236.5" r="1.9" fill="#16449a"/><circle cx="462.5" cy="236.2" r="1.35" fill="#060f28"/>
<circle cx="476.2" cy="236.2" r="3.4" fill="#133c8e"/><circle cx="475.5" cy="235.5" r="2.1" fill="#4278d0"/><circle cx="476.5" cy="236.5" r="1.9" fill="#16449a"/><circle cx="476.2" cy="236.2" r="1.35" fill="#060f28"/>
<circle cx="491.2" cy="236.2" r="3.4" fill="#133c8e"/><circle cx="490.5" cy="235.5" r="2.1" fill="#4278d0"/><circle cx="491.5" cy="236.5" r="1.9" fill="#16449a"/><circle cx="491.2" cy="236.2" r="1.35" fill="#060f28"/>
<circle cx="505" cy="236.2" r="3.4" fill="#133c8e"/><circle cx="504.3" cy="235.5" r="2.1" fill="#4278d0"/><circle cx="505.3" cy="236.5" r="1.9" fill="#16449a"/><circle cx="505" cy="236.2" r="1.35" fill="#060f28"/>
<circle cx="280" cy="330.5" r="3.4" fill="#133c8e"/><circle cx="279.3" cy="329.8" r="2.1" fill="#4278d0"/><circle cx="280.3" cy="330.8" r="1.9" fill="#16449a"/><circle cx="280" cy="330.5" r="1.35" fill="#060f28"/>
<circle cx="294.5" cy="330.5" r="3.4" fill="#133c8e"/><circle cx="293.8" cy="329.8" r="2.1" fill="#4278d0"/><circle cx="294.8" cy="330.8" r="1.9" fill="#16449a"/><circle cx="294.5" cy="330.5" r="1.35" fill="#060f28"/>
<circle cx="308.8" cy="330.5" r="3.4" fill="#133c8e"/><circle cx="308.1" cy="329.8" r="2.1" fill="#4278d0"/><circle cx="309.1" cy="330.8" r="1.9" fill="#16449a"/><circle cx="308.8" cy="330.5" r="1.35" fill="#060f28"/>
<circle cx="323.8" cy="330.5" r="3.4" fill="#133c8e"/><circle cx="323.1" cy="329.8" r="2.1" fill="#4278d0"/><circle cx="324.1" cy="330.8" r="1.9" fill="#16449a"/><circle cx="323.8" cy="330.5" r="1.35" fill="#060f28"/>
<circle cx="342.5" cy="330.5" r="3.4" fill="#133c8e"/><circle cx="341.8" cy="329.8" r="2.1" fill="#4278d0"/><circle cx="342.8" cy="330.8" r="1.9" fill="#16449a"/><circle cx="342.5" cy="330.5" r="1.35" fill="#060f28"/>
<circle cx="357" cy="330.5" r="3.4" fill="#133c8e"/><circle cx="356.3" cy="329.8" r="2.1" fill="#4278d0"/><circle cx="357.3" cy="330.8" r="1.9" fill="#16449a"/><circle cx="357" cy="330.5" r="1.35" fill="#060f28"/>
<circle cx="372" cy="330.5" r="3.4" fill="#133c8e"/><circle cx="371.3" cy="329.8" r="2.1" fill="#4278d0"/><circle cx="372.3" cy="330.8" r="1.9" fill="#16449a"/><circle cx="372" cy="330.5" r="1.35" fill="#060f28"/>
<circle cx="386.2" cy="330.5" r="3.4" fill="#133c8e"/><circle cx="385.5" cy="329.8" r="2.1" fill="#4278d0"/><circle cx="386.5" cy="330.8" r="1.9" fill="#16449a"/><circle cx="386.2" cy="330.5" r="1.35" fill="#060f28"/>
<circle cx="280" cy="345" r="3.4" fill="#133c8e"/><circle cx="279.3" cy="344.3" r="2.1" fill="#4278d0"/><circle cx="280.3" cy="345.3" r="1.9" fill="#16449a"/><circle cx="280" cy="345" r="1.35" fill="#060f28"/>
<circle cx="294.5" cy="345" r="3.4" fill="#133c8e"/><circle cx="293.8" cy="344.3" r="2.1" fill="#4278d0"/><circle cx="294.8" cy="345.3" r="1.9" fill="#16449a"/><circle cx="294.5" cy="345" r="1.35" fill="#060f28"/>
<circle cx="308.8" cy="345" r="3.4" fill="#133c8e"/><circle cx="308.1" cy="344.3" r="2.1" fill="#4278d0"/><circle cx="309.1" cy="345.3" r="1.9" fill="#16449a"/><circle cx="308.8" cy="345" r="1.35" fill="#060f28"/>
<circle cx="323.8" cy="345" r="3.4" fill="#133c8e"/><circle cx="323.1" cy="344.3" r="2.1" fill="#4278d0"/><circle cx="324.1" cy="345.3" r="1.9" fill="#16449a"/><circle cx="323.8" cy="345" r="1.35" fill="#060f28"/>
<circle cx="342.5" cy="345" r="3.4" fill="#133c8e"/><circle cx="341.8" cy="344.3" r="2.1" fill="#4278d0"/><circle cx="342.8" cy="345.3" r="1.9" fill="#16449a"/><circle cx="342.5" cy="345" r="1.35" fill="#060f28"/>
<circle cx="357" cy="345" r="3.4" fill="#133c8e"/><circle cx="356.3" cy="344.3" r="2.1" fill="#4278d0"/><circle cx="357.3" cy="345.3" r="1.9" fill="#16449a"/><circle cx="357" cy="345" r="1.35" fill="#060f28"/>
<circle cx="372" cy="345" r="3.4" fill="#133c8e"/><circle cx="371.3" cy="344.3" r="2.1" fill="#4278d0"/><circle cx="372.3" cy="345.3" r="1.9" fill="#16449a"/><circle cx="372" cy="345" r="1.35" fill="#060f28"/>
<circle cx="386.2" cy="345" r="3.4" fill="#133c8e"/><circle cx="385.5" cy="344.3" r="2.1" fill="#4278d0"/><circle cx="386.5" cy="345.3" r="1.9" fill="#16449a"/><circle cx="386.2" cy="345" r="1.35" fill="#060f28"/>
<circle cx="280" cy="356" r="3.4" fill="#133c8e"/><circle cx="279.3" cy="355.3" r="2.1" fill="#4278d0"/><circle cx="280.3" cy="356.3" r="1.9" fill="#16449a"/><circle cx="280" cy="356" r="1.35" fill="#060f28"/>
<circle cx="294.5" cy="356" r="3.4" fill="#133c8e"/><circle cx="293.8" cy="355.3" r="2.1" fill="#4278d0"/><circle cx="294.8" cy="356.3" r="1.9" fill="#16449a"/><circle cx="294.5" cy="356" r="1.35" fill="#060f28"/>
<circle cx="308.8" cy="356" r="3.4" fill="#133c8e"/><circle cx="308.1" cy="355.3" r="2.1" fill="#4278d0"/><circle cx="309.1" cy="356.3" r="1.9" fill="#16449a"/><circle cx="308.8" cy="356" r="1.35" fill="#060f28"/>
<circle cx="323.8" cy="356" r="3.4" fill="#133c8e"/><circle cx="323.1" cy="355.3" r="2.1" fill="#4278d0"/><circle cx="324.1" cy="356.3" r="1.9" fill="#16449a"/><circle cx="323.8" cy="356" r="1.35" fill="#060f28"/>
<circle cx="342.5" cy="356" r="3.4" fill="#133c8e"/><circle cx="341.8" cy="355.3" r="2.1" fill="#4278d0"/><circle cx="342.8" cy="356.3" r="1.9" fill="#16449a"/><circle cx="342.5" cy="356" r="1.35" fill="#060f28"/>
<circle cx="357" cy="356" r="3.4" fill="#133c8e"/><circle cx="356.3" cy="355.3" r="2.1" fill="#4278d0"/><circle cx="357.3" cy="356.3" r="1.9" fill="#16449a"/><circle cx="357" cy="356" r="1.35" fill="#060f28"/>
<circle cx="372" cy="356" r="3.4" fill="#133c8e"/><circle cx="371.3" cy="355.3" r="2.1" fill="#4278d0"/><circle cx="372.3" cy="356.3" r="1.9" fill="#16449a"/><circle cx="372" cy="356" r="1.35" fill="#060f28"/>
<circle cx="386.2" cy="356" r="3.4" fill="#133c8e"/><circle cx="385.5" cy="355.3" r="2.1" fill="#4278d0"/><circle cx="386.5" cy="356.3" r="1.9" fill="#16449a"/><circle cx="386.2" cy="356" r="1.35" fill="#060f28"/>
<circle cx="280" cy="370.5" r="3.4" fill="#133c8e"/><circle cx="279.3" cy="369.8" r="2.1" fill="#4278d0"/><circle cx="280.3" cy="370.8" r="1.9" fill="#16449a"/><circle cx="280" cy="370.5" r="1.35" fill="#060f28"/>
<circle cx="294.5" cy="370.5" r="3.4" fill="#133c8e"/><circle cx="293.8" cy="369.8" r="2.1" fill="#4278d0"/><circle cx="294.8" cy="370.8" r="1.9" fill="#16449a"/><circle cx="294.5" cy="370.5" r="1.35" fill="#060f28"/>
<circle cx="308.8" cy="370.5" r="3.4" fill="#133c8e"/><circle cx="308.1" cy="369.8" r="2.1" fill="#4278d0"/><circle cx="309.1" cy="370.8" r="1.9" fill="#16449a"/><circle cx="308.8" cy="370.5" r="1.35" fill="#060f28"/>
<circle cx="323.8" cy="370.5" r="3.4" fill="#133c8e"/><circle cx="323.1" cy="369.8" r="2.1" fill="#4278d0"/><circle cx="324.1" cy="370.8" r="1.9" fill="#16449a"/><circle cx="323.8" cy="370.5" r="1.35" fill="#060f28"/>
<circle cx="342.5" cy="370.5" r="3.4" fill="#133c8e"/><circle cx="341.8" cy="369.8" r="2.1" fill="#4278d0"/><circle cx="342.8" cy="370.8" r="1.9" fill="#16449a"/><circle cx="342.5" cy="370.5" r="1.35" fill="#060f28"/>
<circle cx="357" cy="370.5" r="3.4" fill="#133c8e"/><circle cx="356.3" cy="369.8" r="2.1" fill="#4278d0"/><circle cx="357.3" cy="370.8" r="1.9" fill="#16449a"/><circle cx="357" cy="370.5" r="1.35" fill="#060f28"/>
<circle cx="372" cy="370.5" r="3.4" fill="#133c8e"/><circle cx="371.3" cy="369.8" r="2.1" fill="#4278d0"/><circle cx="372.3" cy="370.8" r="1.9" fill="#16449a"/><circle cx="372" cy="370.5" r="1.35" fill="#060f28"/>
<circle cx="386.2" cy="370.5" r="3.4" fill="#133c8e"/><circle cx="385.5" cy="369.8" r="2.1" fill="#4278d0"/><circle cx="386.5" cy="370.8" r="1.9" fill="#16449a"/><circle cx="386.2" cy="370.5" r="1.35" fill="#060f28"/>
<circle cx="295" cy="383.7" r="3.4" fill="#133c8e"/><circle cx="294.3" cy="383.0" r="2.1" fill="#4278d0"/><circle cx="295.3" cy="384.0" r="1.9" fill="#16449a"/><circle cx="295" cy="383.7" r="1.35" fill="#060f28"/>
<circle cx="523.7" cy="345.4" r="3.4" fill="#133c8e"/><circle cx="523.0" cy="344.7" r="2.1" fill="#4278d0"/><circle cx="524.0" cy="345.7" r="1.9" fill="#16449a"/><circle cx="523.7" cy="345.4" r="1.35" fill="#060f28"/>
<circle cx="538.3" cy="345.4" r="3.4" fill="#133c8e"/><circle cx="537.5999999999999" cy="344.7" r="2.1" fill="#4278d0"/><circle cx="538.5999999999999" cy="345.7" r="1.9" fill="#16449a"/><circle cx="538.3" cy="345.4" r="1.35" fill="#060f28"/>
<circle cx="552.9" cy="345.4" r="3.4" fill="#133c8e"/><circle cx="552.1999999999999" cy="344.7" r="2.1" fill="#4278d0"/><circle cx="553.1999999999999" cy="345.7" r="1.9" fill="#16449a"/><circle cx="552.9" cy="345.4" r="1.35" fill="#060f28"/>
<circle cx="567" cy="345.4" r="3.4" fill="#133c8e"/><circle cx="566.3" cy="344.7" r="2.1" fill="#4278d0"/><circle cx="567.3" cy="345.7" r="1.9" fill="#16449a"/><circle cx="567" cy="345.4" r="1.35" fill="#060f28"/>
<circle cx="523.7" cy="359" r="3.4" fill="#133c8e"/><circle cx="523.0" cy="358.3" r="2.1" fill="#4278d0"/><circle cx="524.0" cy="359.3" r="1.9" fill="#16449a"/><circle cx="523.7" cy="359" r="1.35" fill="#060f28"/>
<circle cx="538.3" cy="359" r="3.4" fill="#133c8e"/><circle cx="537.5999999999999" cy="358.3" r="2.1" fill="#4278d0"/><circle cx="538.5999999999999" cy="359.3" r="1.9" fill="#16449a"/><circle cx="538.3" cy="359" r="1.35" fill="#060f28"/>
<circle cx="552.9" cy="359" r="3.4" fill="#133c8e"/><circle cx="552.1999999999999" cy="358.3" r="2.1" fill="#4278d0"/><circle cx="553.1999999999999" cy="359.3" r="1.9" fill="#16449a"/><circle cx="552.9" cy="359" r="1.35" fill="#060f28"/>
<circle cx="567" cy="359" r="3.4" fill="#133c8e"/><circle cx="566.3" cy="358.3" r="2.1" fill="#4278d0"/><circle cx="567.3" cy="359.3" r="1.9" fill="#16449a"/><circle cx="567" cy="359" r="1.35" fill="#060f28"/>
<circle cx="429.4" cy="365.8" r="3.4" fill="#133c8e"/><circle cx="428.7" cy="365.1" r="2.1" fill="#4278d0"/><circle cx="429.7" cy="366.1" r="1.9" fill="#16449a"/><circle cx="429.4" cy="365.8" r="1.35" fill="#060f28"/>
<circle cx="451.7" cy="368.3" r="3.4" fill="#133c8e"/><circle cx="451.0" cy="367.6" r="2.1" fill="#4278d0"/><circle cx="452.0" cy="368.6" r="1.9" fill="#16449a"/><circle cx="451.7" cy="368.3" r="1.35" fill="#060f28"/>
<circle cx="473.7" cy="368.3" r="3.4" fill="#133c8e"/><circle cx="473.0" cy="367.6" r="2.1" fill="#4278d0"/><circle cx="474.0" cy="368.6" r="1.9" fill="#16449a"/><circle cx="473.7" cy="368.3" r="1.35" fill="#060f28"/>
<circle cx="493" cy="368.3" r="3.4" fill="#133c8e"/><circle cx="492.3" cy="367.6" r="2.1" fill="#4278d0"/><circle cx="493.3" cy="368.6" r="1.9" fill="#16449a"/><circle cx="493" cy="368.3" r="1.35" fill="#060f28"/>
<circle cx="472" cy="383.5" r="3.4" fill="#133c8e"/><circle cx="471.3" cy="382.8" r="2.1" fill="#4278d0"/><circle cx="472.3" cy="383.8" r="1.9" fill="#16449a"/><circle cx="472" cy="383.5" r="1.35" fill="#060f28"/>
<circle cx="492" cy="383.5" r="3.4" fill="#133c8e"/><circle cx="491.3" cy="382.8" r="2.1" fill="#4278d0"/><circle cx="492.3" cy="383.8" r="1.9" fill="#16449a"/><circle cx="492" cy="383.5" r="1.35" fill="#060f28"/>
<circle cx="603.3" cy="331.5" r="3.4" fill="#133c8e"/><circle cx="602.5999999999999" cy="330.8" r="2.1" fill="#4278d0"/><circle cx="603.5999999999999" cy="331.8" r="1.9" fill="#16449a"/><circle cx="603.3" cy="331.5" r="1.35" fill="#060f28"/>
<circle cx="603.3" cy="351.2" r="3.4" fill="#133c8e"/><circle cx="602.5999999999999" cy="350.5" r="2.1" fill="#4278d0"/><circle cx="603.5999999999999" cy="351.5" r="1.9" fill="#16449a"/><circle cx="603.3" cy="351.2" r="1.35" fill="#060f28"/>
<circle cx="591" cy="373" r="3.4" fill="#133c8e"/><circle cx="590.3" cy="372.3" r="2.1" fill="#4278d0"/><circle cx="591.3" cy="373.3" r="1.9" fill="#16449a"/><circle cx="591" cy="373" r="1.35" fill="#060f28"/>
<circle cx="661" cy="398.7" r="3.4" fill="#133c8e"/><circle cx="660.3" cy="398.0" r="2.1" fill="#4278d0"/><circle cx="661.3" cy="399.0" r="1.9" fill="#16449a"/><circle cx="661" cy="398.7" r="1.35" fill="#060f28"/>
<circle cx="675" cy="398.7" r="3.4" fill="#133c8e"/><circle cx="674.3" cy="398.0" r="2.1" fill="#4278d0"/><circle cx="675.3" cy="399.0" r="1.9" fill="#16449a"/><circle cx="675" cy="398.7" r="1.35" fill="#060f28"/>
<circle cx="689.5" cy="398.7" r="3.4" fill="#133c8e"/><circle cx="688.8" cy="398.0" r="2.1" fill="#4278d0"/><circle cx="689.8" cy="399.0" r="1.9" fill="#16449a"/><circle cx="689.5" cy="398.7" r="1.35" fill="#060f28"/>
<circle cx="703" cy="398.7" r="3.4" fill="#133c8e"/><circle cx="702.3" cy="398.0" r="2.1" fill="#4278d0"/><circle cx="703.3" cy="399.0" r="1.9" fill="#16449a"/><circle cx="703" cy="398.7" r="1.35" fill="#060f28"/>
<circle cx="661" cy="413.7" r="3.4" fill="#133c8e"/><circle cx="660.3" cy="413.0" r="2.1" fill="#4278d0"/><circle cx="661.3" cy="414.0" r="1.9" fill="#16449a"/><circle cx="661" cy="413.7" r="1.35" fill="#060f28"/>
<circle cx="675" cy="413.7" r="3.4" fill="#133c8e"/><circle cx="674.3" cy="413.0" r="2.1" fill="#4278d0"/><circle cx="675.3" cy="414.0" r="1.9" fill="#16449a"/><circle cx="675" cy="413.7" r="1.35" fill="#060f28"/>
<circle cx="689.5" cy="413.7" r="3.4" fill="#133c8e"/><circle cx="688.8" cy="413.0" r="2.1" fill="#4278d0"/><circle cx="689.8" cy="414.0" r="1.9" fill="#16449a"/><circle cx="689.5" cy="413.7" r="1.35" fill="#060f28"/>
<circle cx="703" cy="413.7" r="3.4" fill="#133c8e"/><circle cx="702.3" cy="413.0" r="2.1" fill="#4278d0"/><circle cx="703.3" cy="414.0" r="1.9" fill="#16449a"/><circle cx="703" cy="413.7" r="1.35" fill="#060f28"/>
<circle cx="661" cy="428.7" r="3.4" fill="#133c8e"/><circle cx="660.3" cy="428.0" r="2.1" fill="#4278d0"/><circle cx="661.3" cy="429.0" r="1.9" fill="#16449a"/><circle cx="661" cy="428.7" r="1.35" fill="#060f28"/>
<circle cx="675" cy="428.7" r="3.4" fill="#133c8e"/><circle cx="674.3" cy="428.0" r="2.1" fill="#4278d0"/><circle cx="675.3" cy="429.0" r="1.9" fill="#16449a"/><circle cx="675" cy="428.7" r="1.35" fill="#060f28"/>
<circle cx="689.5" cy="428.7" r="3.4" fill="#133c8e"/><circle cx="688.8" cy="428.0" r="2.1" fill="#4278d0"/><circle cx="689.8" cy="429.0" r="1.9" fill="#16449a"/><circle cx="689.5" cy="428.7" r="1.35" fill="#060f28"/>
<circle cx="703" cy="428.7" r="3.4" fill="#133c8e"/><circle cx="702.3" cy="428.0" r="2.1" fill="#4278d0"/><circle cx="703.3" cy="429.0" r="1.9" fill="#16449a"/><circle cx="703" cy="428.7" r="1.35" fill="#060f28"/>
<circle cx="661" cy="443.7" r="3.4" fill="#133c8e"/><circle cx="660.3" cy="443.0" r="2.1" fill="#4278d0"/><circle cx="661.3" cy="444.0" r="1.9" fill="#16449a"/><circle cx="661" cy="443.7" r="1.35" fill="#060f28"/>
<circle cx="675" cy="443.7" r="3.4" fill="#133c8e"/><circle cx="674.3" cy="443.0" r="2.1" fill="#4278d0"/><circle cx="675.3" cy="444.0" r="1.9" fill="#16449a"/><circle cx="675" cy="443.7" r="1.35" fill="#060f28"/>
<circle cx="689.5" cy="443.7" r="3.4" fill="#133c8e"/><circle cx="688.8" cy="443.0" r="2.1" fill="#4278d0"/><circle cx="689.8" cy="444.0" r="1.9" fill="#16449a"/><circle cx="689.5" cy="443.7" r="1.35" fill="#060f28"/>
<circle cx="703" cy="443.7" r="3.4" fill="#133c8e"/><circle cx="702.3" cy="443.0" r="2.1" fill="#4278d0"/><circle cx="703.3" cy="444.0" r="1.9" fill="#16449a"/><circle cx="703" cy="443.7" r="1.35" fill="#060f28"/>
<circle cx="718" cy="232" r="3.4" fill="#133c8e"/><circle cx="717.3" cy="231.3" r="2.1" fill="#4278d0"/><circle cx="718.3" cy="232.3" r="1.9" fill="#16449a"/><circle cx="718" cy="232" r="1.35" fill="#060f28"/>
<circle cx="742" cy="232" r="3.4" fill="#133c8e"/><circle cx="741.3" cy="231.3" r="2.1" fill="#4278d0"/><circle cx="742.3" cy="232.3" r="1.9" fill="#16449a"/><circle cx="742" cy="232" r="1.35" fill="#060f28"/>
<circle cx="721" cy="251.5" r="3.4" fill="#133c8e"/><circle cx="720.3" cy="250.8" r="2.1" fill="#4278d0"/><circle cx="721.3" cy="251.8" r="1.9" fill="#16449a"/><circle cx="721" cy="251.5" r="1.35" fill="#060f28"/>
<circle cx="744.5" cy="251.5" r="3.4" fill="#133c8e"/><circle cx="743.8" cy="250.8" r="2.1" fill="#4278d0"/><circle cx="744.8" cy="251.8" r="1.9" fill="#16449a"/><circle cx="744.5" cy="251.5" r="1.35" fill="#060f28"/>
<circle cx="683.8" cy="119.8" r="3.4" fill="#133c8e"/><circle cx="683.0999999999999" cy="119.1" r="2.1" fill="#4278d0"/><circle cx="684.0999999999999" cy="120.1" r="1.9" fill="#16449a"/><circle cx="683.8" cy="119.8" r="1.35" fill="#060f28"/>
<circle cx="644" cy="151.4" r="3.4" fill="#133c8e"/><circle cx="643.3" cy="150.70000000000002" r="2.1" fill="#4278d0"/><circle cx="644.3" cy="151.70000000000002" r="1.9" fill="#16449a"/><circle cx="644" cy="151.4" r="1.35" fill="#060f28"/>
<circle cx="610" cy="163" r="3.4" fill="#133c8e"/><circle cx="609.3" cy="162.3" r="2.1" fill="#4278d0"/><circle cx="610.3" cy="163.3" r="1.9" fill="#16449a"/><circle cx="610" cy="163" r="1.35" fill="#060f28"/>
<circle cx="660" cy="170" r="3.4" fill="#133c8e"/><circle cx="659.3" cy="169.3" r="2.1" fill="#4278d0"/><circle cx="660.3" cy="170.3" r="1.9" fill="#16449a"/><circle cx="660" cy="170" r="1.35" fill="#060f28"/>
<circle cx="620.6" cy="176.4" r="3.4" fill="#133c8e"/><circle cx="619.9" cy="175.70000000000002" r="2.1" fill="#4278d0"/><circle cx="620.9" cy="176.70000000000002" r="1.9" fill="#16449a"/><circle cx="620.6" cy="176.4" r="1.35" fill="#060f28"/>
<circle cx="678.6" cy="180.4" r="3.4" fill="#133c8e"/><circle cx="677.9" cy="179.70000000000002" r="2.1" fill="#4278d0"/><circle cx="678.9" cy="180.70000000000002" r="1.9" fill="#16449a"/><circle cx="678.6" cy="180.4" r="1.35" fill="#060f28"/>
<circle cx="699.6" cy="156.7" r="3.4" fill="#133c8e"/><circle cx="698.9" cy="156.0" r="2.1" fill="#4278d0"/><circle cx="699.9" cy="157.0" r="1.9" fill="#16449a"/><circle cx="699.6" cy="156.7" r="1.35" fill="#060f28"/>
</g>
<path d="M262,307.5 H650 V325 H262 A8.75,8.75 0 0 1 262,307.5 Z" fill="#fff"/>
<path d="M262,307.5 H650 V309.6 H256.5 Q258.5,307.5 262,307.5Z" fill="#6f6f6f"/>
<path d="M256,324.6 H650 V326 H262 Q258,326 256,324.6Z" fill="#10398a"/>
<circle cx="232.5" cy="130" r="25" fill="#fff"/>
<circle cx="232.5" cy="130" r="13.8" fill="none" stroke="#151515" stroke-width="1.5"/>
<path d="M219.5,134.7 A13.8,13.8 0 0 1 243.1,121.2" fill="none" stroke="#151515" stroke-width="2.4"/>
<circle cx="724" cy="131" r="25" fill="#fff"/>
<circle cx="724" cy="131" r="14" fill="none" stroke="#151515" stroke-width="1.5"/>
<path d="M710.8,135.8 A14,14 0 0 1 734.8,122.0" fill="none" stroke="#151515" stroke-width="2.4"/>
<circle cx="233" cy="545" r="25" fill="#fff"/>
<circle cx="233" cy="545" r="13.9" fill="none" stroke="#151515" stroke-width="1.5"/>
<path d="M219.9,549.7 A13.9,13.9 0 0 1 243.7,536.1" fill="none" stroke="#151515" stroke-width="2.4"/>
<circle cx="730.4" cy="543.4" r="25" fill="#fff"/>
<circle cx="730.4" cy="543.4" r="14.2" fill="none" stroke="#151515" stroke-width="1.5"/>
<path d="M717.1,548.2 A14.2,14.2 0 0 1 741.3,534.3" fill="none" stroke="#151515" stroke-width="2.4"/>
<g id="gpio">
<circle cx="273.5" cy="532.8" r="8" fill="#0e2a66"/><circle cx="273.5" cy="532.8" r="7" fill="#fff"/><circle cx="273.5" cy="532.8" r="4.2" fill="#0a0a0a"/>
<circle cx="273.5" cy="554.3" r="8" fill="#0e2a66"/><circle cx="273.5" cy="554.3" r="7" fill="#fff"/><circle cx="273.5" cy="554.3" r="4.2" fill="#0a0a0a"/>
<circle cx="295.3" cy="532.8" r="8" fill="#0e2a66"/><circle cx="295.3" cy="532.8" r="7" fill="#fff"/><circle cx="295.3" cy="532.8" r="4.2" fill="#0a0a0a"/>
<circle cx="295.3" cy="554.3" r="8" fill="#0e2a66"/><circle cx="295.3" cy="554.3" r="7" fill="#fff"/><circle cx="295.3" cy="554.3" r="4.2" fill="#0a0a0a"/>
<circle cx="317.1" cy="532.8" r="8" fill="#0e2a66"/><circle cx="317.1" cy="532.8" r="7" fill="#fff"/><circle cx="317.1" cy="532.8" r="4.2" fill="#0a0a0a"/>
<circle cx="317.1" cy="554.3" r="8" fill="#0e2a66"/><circle cx="317.1" cy="554.3" r="7" fill="#fff"/><circle cx="317.1" cy="554.3" r="4.2" fill="#0a0a0a"/>
<circle cx="338.9" cy="532.8" r="8" fill="#0e2a66"/><circle cx="338.9" cy="532.8" r="7" fill="#fff"/><circle cx="338.9" cy="532.8" r="4.2" fill="#0a0a0a"/>
<circle cx="338.9" cy="554.3" r="8" fill="#0e2a66"/><circle cx="338.9" cy="554.3" r="7" fill="#fff"/><circle cx="338.9" cy="554.3" r="4.2" fill="#0a0a0a"/>
<circle cx="360.7" cy="532.8" r="8" fill="#0e2a66"/><circle cx="360.7" cy="532.8" r="7" fill="#fff"/><circle cx="360.7" cy="532.8" r="4.2" fill="#0a0a0a"/>
<circle cx="360.7" cy="554.3" r="8" fill="#0e2a66"/><circle cx="360.7" cy="554.3" r="7" fill="#fff"/><circle cx="360.7" cy="554.3" r="4.2" fill="#0a0a0a"/>
<circle cx="382.5" cy="532.8" r="8" fill="#0e2a66"/><circle cx="382.5" cy="532.8" r="7" fill="#fff"/><circle cx="382.5" cy="532.8" r="4.2" fill="#0a0a0a"/>
<circle cx="382.5" cy="554.3" r="8" fill="#0e2a66"/><circle cx="382.5" cy="554.3" r="7" fill="#fff"/><circle cx="382.5" cy="554.3" r="4.2" fill="#0a0a0a"/>
<circle cx="404.3" cy="532.8" r="8" fill="#0e2a66"/><circle cx="404.3" cy="532.8" r="7" fill="#fff"/><circle cx="404.3" cy="532.8" r="4.2" fill="#0a0a0a"/>
<circle cx="404.3" cy="554.3" r="8" fill="#0e2a66"/><circle cx="404.3" cy="554.3" r="7" fill="#fff"/><circle cx="404.3" cy="554.3" r="4.2" fill="#0a0a0a"/>
<circle cx="426.1" cy="532.8" r="8" fill="#0e2a66"/><circle cx="426.1" cy="532.8" r="7" fill="#fff"/><circle cx="426.1" cy="532.8" r="4.2" fill="#0a0a0a"/>
<circle cx="426.1" cy="554.3" r="8" fill="#0e2a66"/><circle cx="426.1" cy="554.3" r="7" fill="#fff"/><circle cx="426.1" cy="554.3" r="4.2" fill="#0a0a0a"/>
<circle cx="447.9" cy="532.8" r="8" fill="#0e2a66"/><circle cx="447.9" cy="532.8" r="7" fill="#fff"/><circle cx="447.9" cy="532.8" r="4.2" fill="#0a0a0a"/>
<circle cx="447.9" cy="554.3" r="8" fill="#0e2a66"/><circle cx="447.9" cy="554.3" r="7" fill="#fff"/><circle cx="447.9" cy="554.3" r="4.2" fill="#0a0a0a"/>
<circle cx="469.7" cy="532.8" r="8" fill="#0e2a66"/><circle cx="469.7" cy="532.8" r="7" fill="#fff"/><circle cx="469.7" cy="532.8" r="4.2" fill="#0a0a0a"/>
<circle cx="469.7" cy="554.3" r="8" fill="#0e2a66"/><circle cx="469.7" cy="554.3" r="7" fill="#fff"/><circle cx="469.7" cy="554.3" r="4.2" fill="#0a0a0a"/>
<circle cx="491.5" cy="532.8" r="8" fill="#0e2a66"/><circle cx="491.5" cy="532.8" r="7" fill="#fff"/><circle cx="491.5" cy="532.8" r="4.2" fill="#0a0a0a"/>
<circle cx="491.5" cy="554.3" r="8" fill="#0e2a66"/><circle cx="491.5" cy="554.3" r="7" fill="#fff"/><circle cx="491.5" cy="554.3" r="4.2" fill="#0a0a0a"/>
<circle cx="513.3" cy="532.8" r="8" fill="#0e2a66"/><circle cx="513.3" cy="532.8" r="7" fill="#fff"/><circle cx="513.3" cy="532.8" r="4.2" fill="#0a0a0a"/>
<circle cx="513.3" cy="554.3" r="8" fill="#0e2a66"/><circle cx="513.3" cy="554.3" r="7" fill="#fff"/><circle cx="513.3" cy="554.3" r="4.2" fill="#0a0a0a"/>
<circle cx="535.1" cy="532.8" r="8" fill="#0e2a66"/><circle cx="535.1" cy="532.8" r="7" fill="#fff"/><circle cx="535.1" cy="532.8" r="4.2" fill="#0a0a0a"/>
<circle cx="535.1" cy="554.3" r="8" fill="#0e2a66"/><circle cx="535.1" cy="554.3" r="7" fill="#fff"/><circle cx="535.1" cy="554.3" r="4.2" fill="#0a0a0a"/>
<circle cx="556.9" cy="532.8" r="8" fill="#0e2a66"/><circle cx="556.9" cy="532.8" r="7" fill="#fff"/><circle cx="556.9" cy="532.8" r="4.2" fill="#0a0a0a"/>
<circle cx="556.9" cy="554.3" r="8" fill="#0e2a66"/><circle cx="556.9" cy="554.3" r="7" fill="#fff"/><circle cx="556.9" cy="554.3" r="4.2" fill="#0a0a0a"/>
<circle cx="578.7" cy="532.8" r="8" fill="#0e2a66"/><circle cx="578.7" cy="532.8" r="7" fill="#fff"/><circle cx="578.7" cy="532.8" r="4.2" fill="#0a0a0a"/>
<circle cx="578.7" cy="554.3" r="8" fill="#0e2a66"/><circle cx="578.7" cy="554.3" r="7" fill="#fff"/><circle cx="578.7" cy="554.3" r="4.2" fill="#0a0a0a"/>
<circle cx="600.5" cy="532.8" r="8" fill="#0e2a66"/><circle cx="600.5" cy="532.8" r="7" fill="#fff"/><circle cx="600.5" cy="532.8" r="4.2" fill="#0a0a0a"/>
<circle cx="600.5" cy="554.3" r="8" fill="#0e2a66"/><circle cx="600.5" cy="554.3" r="7" fill="#fff"/><circle cx="600.5" cy="554.3" r="4.2" fill="#0a0a0a"/>
<circle cx="622.3" cy="532.8" r="8" fill="#0e2a66"/><circle cx="622.3" cy="532.8" r="7" fill="#fff"/><circle cx="622.3" cy="532.8" r="4.2" fill="#0a0a0a"/>
<circle cx="622.3" cy="554.3" r="8" fill="#0e2a66"/><circle cx="622.3" cy="554.3" r="7" fill="#fff"/><circle cx="622.3" cy="554.3" r="4.2" fill="#0a0a0a"/>
<circle cx="644.1" cy="532.8" r="8" fill="#0e2a66"/><circle cx="644.1" cy="532.8" r="7" fill="#fff"/><circle cx="644.1" cy="532.8" r="4.2" fill="#0a0a0a"/>
<circle cx="644.1" cy="554.3" r="8" fill="#0e2a66"/><circle cx="644.1" cy="554.3" r="7" fill="#fff"/><circle cx="644.1" cy="554.3" r="4.2" fill="#0a0a0a"/>
<circle cx="665.9" cy="532.8" r="8" fill="#0e2a66"/><circle cx="665.9" cy="532.8" r="7" fill="#fff"/><circle cx="665.9" cy="532.8" r="4.2" fill="#0a0a0a"/>
<circle cx="665.9" cy="554.3" r="8" fill="#0e2a66"/><circle cx="665.9" cy="554.3" r="7" fill="#fff"/><circle cx="665.9" cy="554.3" r="4.2" fill="#0a0a0a"/>
<circle cx="687.7" cy="532.8" r="8" fill="#0e2a66"/><circle cx="687.7" cy="532.8" r="7" fill="#fff"/><circle cx="687.7" cy="532.8" r="4.2" fill="#0a0a0a"/>
<circle cx="687.7" cy="554.3" r="8" fill="#0e2a66"/><circle cx="687.7" cy="554.3" r="7" fill="#fff"/><circle cx="687.7" cy="554.3" r="4.2" fill="#0a0a0a"/>
</g>
<circle cx="284.8" cy="544.2" r="6.5" fill="#101418"/><circle cx="283.3" cy="544.2" r="1.3" fill="#5a6a80"/>
<circle cx="676.3" cy="542" r="6.5" fill="#101418"/><circle cx="674.8" cy="542" r="1.3" fill="#5a6a80"/>
<rect x="648" y="193.5" width="51.5" height="179.5" fill="#222326"/>
<rect x="648" y="359" width="51.5" height="14" fill="#14295e"/>
<path d="M700.5,205 V374 H648" stroke="#fff" stroke-width="1.6" fill="none"/>
<rect x="338" y="160.5" width="91" height="6" fill="#123c80"/>
<rect x="340" y="94.2" width="87" height="34.8" fill="#8bd898"/>
<rect x="340" y="129" width="87" height="31.5" fill="#6cc076"/>
<rect x="340" y="129" width="87" height="1.5" fill="#9ad8a6"/>
<rect x="340" y="152.5" width="87" height="8" fill="#589d62"/>
<rect x="340" y="152.5" width="87" height="1.2" fill="#467e4e"/>
<rect x="427" y="139" width="3.5" height="14" fill="#6cbf78"/>
<circle cx="353.8" cy="114.3" r="11.4" fill="#20402a"/>
<circle cx="354.1" cy="115.89999999999999" r="10.2" fill="#f2f4f2"/>
<circle cx="354.1" cy="115.89999999999999" r="10.2" fill="none" stroke="#c9cfca" stroke-width="1"/>
<path d="M345.8,119.8 L362.8,112.3" stroke="#3a3a3a" stroke-width="1.4"/>
<circle cx="383.5" cy="114.3" r="11.4" fill="#20402a"/>
<circle cx="383.8" cy="115.89999999999999" r="10.2" fill="#f2f4f2"/>
<circle cx="383.8" cy="115.89999999999999" r="10.2" fill="none" stroke="#c9cfca" stroke-width="1"/>
<path d="M375.5,119.8 L392.5,112.3" stroke="#3a3a3a" stroke-width="1.4"/>
<circle cx="413.3" cy="114.3" r="11.4" fill="#20402a"/>
<circle cx="413.6" cy="115.89999999999999" r="10.2" fill="#f2f4f2"/>
<circle cx="413.6" cy="115.89999999999999" r="10.2" fill="none" stroke="#c9cfca" stroke-width="1"/>
<path d="M405.3,111.3 L421.3,120.3" stroke="#3a3a3a" stroke-width="1.4"/>
<rect x="505.8" y="160.5" width="93.40000000000003" height="6" fill="#123c80"/>
<rect x="507.8" y="96" width="89.40000000000003" height="37" fill="#8bd898"/>
<rect x="507.8" y="133" width="89.40000000000003" height="27.5" fill="#60a86a"/>
<rect x="507.8" y="133" width="89.40000000000003" height="1.5" fill="#9ad8a6"/>
<rect x="507.8" y="152.5" width="89.40000000000003" height="8" fill="#589d62"/>
<rect x="507.8" y="152.5" width="89.40000000000003" height="1.2" fill="#467e4e"/>
<rect x="597.2" y="143" width="3.5" height="14" fill="#6cbf78"/>
<circle cx="521.6" cy="117.4" r="11.4" fill="#20402a"/>
<circle cx="521.9" cy="119.0" r="10.2" fill="#f2f4f2"/>
<circle cx="521.9" cy="119.0" r="10.2" fill="none" stroke="#c9cfca" stroke-width="1"/>
<path d="M513.6,122.9 L530.6,115.4" stroke="#3a3a3a" stroke-width="1.4"/>
<circle cx="552.2" cy="116.8" r="11.4" fill="#20402a"/>
<circle cx="552.5" cy="118.39999999999999" r="10.2" fill="#f2f4f2"/>
<circle cx="552.5" cy="118.39999999999999" r="10.2" fill="none" stroke="#c9cfca" stroke-width="1"/>
<path d="M544.2,122.3 L561.2,114.8" stroke="#3a3a3a" stroke-width="1.4"/>
<circle cx="582.8" cy="116.8" r="11.4" fill="#20402a"/>
<circle cx="583.0999999999999" cy="118.39999999999999" r="10.2" fill="#f2f4f2"/>
<circle cx="583.0999999999999" cy="118.39999999999999" r="10.2" fill="none" stroke="#c9cfca" stroke-width="1"/>
<path d="M574.8,113.8 L590.8,122.8" stroke="#3a3a3a" stroke-width="1.4"/>
<g id="silk">
<path d="M338.4,105 V168.3 H436.2 V105 H428" stroke="#fff" stroke-width="1.6" fill="none"/>
<path d="M503.8,104.5 V170 H601 V104.5" stroke="#fff" stroke-width="1.6" fill="none"/>
<path d="M226,161 V225.5 H203.5" stroke="#fff" stroke-width="1.6" fill="none"/>
<path d="M731,161.7 V225 H753" stroke="#fff" stroke-width="1.6" fill="none"/>
<path d="M225.6,324 V518 H204" stroke="#fff" stroke-width="1.6" fill="none"/>
<path d="M731.5,447 V516 H757" stroke="#fff" stroke-width="1.6" fill="none"/>
<path d="M513.5,284 V303" stroke="#fff" stroke-width="2.2" fill="none"/>
<path d="M513.5,325.7 V340" stroke="#fff" stroke-width="2.2" fill="none"/>
<path d="M324.5,402 V420" stroke="#fff" stroke-width="1.8" fill="none"/>
<path d="M428.3,400 V452" stroke="#fff" stroke-width="1.8" fill="none"/>
<path d="M499.5,402 V420" stroke="#fff" stroke-width="1.8" fill="none"/>
<path d="M605.5,400 V452" stroke="#fff" stroke-width="1.8" fill="none"/>
<path d="M363.5,230 V244" stroke="#fff" stroke-width="1.8" fill="none"/>
<path d="M408.5,234 V256" stroke="#fff" stroke-width="1.8" fill="none"/>
<path d="M528.3,232 V246" stroke="#fff" stroke-width="1.8" fill="none"/>
<path d="M573,236 V258" stroke="#fff" stroke-width="1.8" fill="none"/>
</g>
<circle cx="486.7" cy="261.3" r="2.2" fill="#fff"/>
<circle cx="427" cy="390.8" r="2.2" fill="#fff"/>
<circle cx="603.7" cy="390.5" r="2.2" fill="#fff"/>
<circle cx="360.8" cy="270.3" r="2.2" fill="#fff"/>
<circle cx="634.8" cy="247" r="2.2" fill="#fff"/>
<circle cx="433" cy="362" r="2.2" fill="#fff"/>
<path d="M352.6,172.3 V194.2 H420.9 V172.3" stroke="#fff" stroke-width="1.6" fill="none"/>
<rect x="353.8" y="170.3" width="65.89999999999998" height="22.69999999999999" fill="#efd400"/>
<rect x="354.8" y="170.3" width="20.0" height="18.69999999999999" rx="3" fill="#f8e640"/>
<rect x="376.8" y="170.3" width="20.0" height="18.69999999999999" rx="3" fill="#f8e640"/>
<rect x="398.7" y="170.3" width="20.0" height="18.69999999999999" rx="3" fill="#f8e640"/>
<path d="M371.8,193 L375.8,188 L379.8,193 Z" fill="#1a2a50"/>
<path d="M393.7,193 L397.7,188 L401.7,193 Z" fill="#1a2a50"/>
<rect x="361" y="166.3" width="4" height="16" fill="#c9a828"/><rect x="361" y="166.3" width="4" height="5" fill="#f4f4f4"/>
<rect x="383" y="166.3" width="4" height="16" fill="#c9a828"/><rect x="383" y="166.3" width="4" height="5" fill="#f4f4f4"/>
<rect x="405.8" y="166.3" width="4" height="16" fill="#c9a828"/><rect x="405.8" y="166.3" width="4" height="5" fill="#f4f4f4"/>
<path d="M516.3,170.5 V193.7 H585.0 V170.5" stroke="#fff" stroke-width="1.6" fill="none"/>
<rect x="517.5" y="168.5" width="66.29999999999995" height="24.0" fill="#efd400"/>
<rect x="518.5" y="168.5" width="20.1" height="20.0" rx="3" fill="#f8e640"/>
<rect x="540.6" y="168.5" width="20.1" height="20.0" rx="3" fill="#f8e640"/>
<rect x="562.7" y="168.5" width="20.1" height="20.0" rx="3" fill="#f8e640"/>
<path d="M535.6,192.5 L539.6,187.5 L543.6,192.5 Z" fill="#1a2a50"/>
<path d="M557.7,192.5 L561.7,187.5 L565.7,192.5 Z" fill="#1a2a50"/>
<rect x="526.5" y="164.5" width="4" height="16" fill="#c9a828"/><rect x="526.5" y="164.5" width="4" height="5" fill="#f4f4f4"/>
<rect x="549" y="164.5" width="4" height="16" fill="#c9a828"/><rect x="549" y="164.5" width="4" height="5" fill="#f4f4f4"/>
<rect x="571" y="164.5" width="4" height="16" fill="#c9a828"/><rect x="571" y="164.5" width="4" height="5" fill="#f4f4f4"/>
<g id="hdr9">
<rect x="202" y="322.7" width="23" height="21.55" rx="3" fill="#e9cf00"/>
<rect x="202.8" y="323.5" width="21.4" height="19.6" rx="5" fill="#f9e300"/>
<rect x="206" y="326.7" width="13" height="11" rx="4" fill="#fff050"/>
<rect x="208.5" y="325.7" width="4" height="4" fill="#c8a828"/><rect x="209.3" y="326.2" width="2.4" height="2" fill="#fff"/>
<rect x="202" y="344.2" width="23" height="21.55" rx="3" fill="#e9cf00"/>
<rect x="202.8" y="345.1" width="21.4" height="19.6" rx="5" fill="#f9e300"/>
<rect x="206" y="348.2" width="13" height="11" rx="4" fill="#fff050"/>
<rect x="208.5" y="347.2" width="4" height="4" fill="#c8a828"/><rect x="209.3" y="347.8" width="2.4" height="2" fill="#fff"/>
<rect x="202" y="365.8" width="23" height="21.55" rx="3" fill="#e9cf00"/>
<rect x="202.8" y="366.6" width="21.4" height="19.6" rx="5" fill="#f9e300"/>
<rect x="206" y="369.8" width="13" height="11" rx="4" fill="#fff050"/>
<rect x="208.5" y="368.8" width="4" height="4" fill="#c8a828"/><rect x="209.3" y="369.3" width="2.4" height="2" fill="#fff"/>
<rect x="202" y="387.4" width="23" height="21.55" rx="3" fill="#e9cf00"/>
<rect x="202.8" y="388.2" width="21.4" height="19.6" rx="5" fill="#f9e300"/>
<rect x="206" y="391.4" width="13" height="11" rx="4" fill="#fff050"/>
<rect x="208.5" y="390.4" width="4" height="4" fill="#c8a828"/><rect x="209.3" y="390.9" width="2.4" height="2" fill="#fff"/>
<rect x="202" y="408.9" width="23" height="21.55" rx="3" fill="#e9cf00"/>
<rect x="202.8" y="409.7" width="21.4" height="19.6" rx="5" fill="#f9e300"/>
<rect x="206" y="412.9" width="13" height="11" rx="4" fill="#fff050"/>
<rect x="208.5" y="411.9" width="4" height="4" fill="#c8a828"/><rect x="209.3" y="412.4" width="2.4" height="2" fill="#fff"/>
<rect x="202" y="430.4" width="23" height="21.55" rx="3" fill="#e9cf00"/>
<rect x="202.8" y="431.2" width="21.4" height="19.6" rx="5" fill="#f9e300"/>
<rect x="206" y="434.4" width="13" height="11" rx="4" fill="#fff050"/>
<rect x="208.5" y="433.4" width="4" height="4" fill="#c8a828"/><rect x="209.3" y="433.9" width="2.4" height="2" fill="#fff"/>
<rect x="202" y="452.0" width="23" height="21.55" rx="3" fill="#e9cf00"/>
<rect x="202.8" y="452.8" width="21.4" height="19.6" rx="5" fill="#f9e300"/>
<rect x="206" y="456.0" width="13" height="11" rx="4" fill="#fff050"/>
<rect x="208.5" y="455.0" width="4" height="4" fill="#c8a828"/><rect x="209.3" y="455.5" width="2.4" height="2" fill="#fff"/>
<rect x="202" y="473.5" width="23" height="21.55" rx="3" fill="#e9cf00"/>
<rect x="202.8" y="474.3" width="21.4" height="19.6" rx="5" fill="#f9e300"/>
<rect x="206" y="477.5" width="13" height="11" rx="4" fill="#fff050"/>
<rect x="208.5" y="476.5" width="4" height="4" fill="#c8a828"/><rect x="209.3" y="477.0" width="2.4" height="2" fill="#fff"/>
<rect x="202" y="495.1" width="23" height="21.55" rx="3" fill="#e9cf00"/>
<rect x="202.8" y="495.9" width="21.4" height="19.6" rx="5" fill="#f9e300"/>
<rect x="206" y="499.1" width="13" height="11" rx="4" fill="#fff050"/>
<rect x="208.5" y="498.1" width="4" height="4" fill="#c8a828"/><rect x="209.3" y="498.6" width="2.4" height="2" fill="#fff"/>
</g>
<rect x="203.3" y="199.3" width="21.099999999999994" height="25.0" rx="4" fill="#f0d400"/>
<rect x="210.9" y="199.5" width="3.2" height="13" fill="#c7a21a"/><rect x="210.9" y="199.5" width="3.2" height="3" fill="#fff"/>
<rect x="200" y="147" width="20.400000000000006" height="52.30000000000001" rx="2" fill="#f7dc00"/>
<rect x="200" y="185.3" width="20.400000000000006" height="14" rx="2" fill="#e8c400"/>
<rect x="205.2" y="154.5" width="8.0" height="27.69999999999999" fill="#8a4a10"/>
<rect x="206.7" y="158.5" width="5.0" height="19.69999999999999" fill="#c07a20"/>
<rect x="207.89999999999998" y="156.5" width="2.6" height="2.6" fill="#fff"/><rect x="207.89999999999998" y="177.2" width="2.6" height="2.6" fill="#fff"/>
<rect x="733" y="198" width="21.299999999999955" height="26.400000000000006" rx="4" fill="#f0d400"/>
<rect x="744.8" y="200.5" width="3.2" height="13" fill="#c7a21a"/><rect x="744.8" y="200.5" width="3.2" height="3" fill="#fff"/>
<rect x="733.2" y="148.6" width="26.399999999999977" height="49.400000000000006" rx="2" fill="#f7dc00"/>
<rect x="733.2" y="184" width="26.399999999999977" height="14" rx="2" fill="#e8c400"/>
<rect x="744.4" y="154.5" width="9.300000000000068" height="27.69999999999999" fill="#8a4a10"/>
<rect x="745.9" y="158.5" width="6.300000000000068" height="19.69999999999999" fill="#c07a20"/>
<rect x="747.75" y="156.5" width="2.6" height="2.6" fill="#fff"/><rect x="747.75" y="177.2" width="2.6" height="2.6" fill="#fff"/>
<rect x="733.7" y="494" width="21.899999999999977" height="20.399999999999977" rx="4" fill="#f0d400"/>
<rect x="747.4" y="496" width="3.2" height="11" fill="#c7a21a"/><rect x="747.4" y="496" width="3.2" height="3" fill="#fff"/>
<rect x="732" y="446.2" width="26" height="48.0" rx="2" fill="#f7dc00"/>
<rect x="732" y="480.2" width="26" height="14" rx="2" fill="#e8c400"/>
<rect x="743" y="452" width="7.5" height="28" fill="#8a4a10"/>
<rect x="744.5" y="456" width="4.5" height="20" fill="#c07a20"/>
<rect x="745.45" y="454" width="2.6" height="2.6" fill="#fff"/><rect x="745.45" y="475" width="2.6" height="2.6" fill="#fff"/>
<rect x="366.5" y="211.8" width="6.4" height="14.799999999999994" rx="3.2" fill="#1e2a44"/>
<rect x="367.3" y="212.4" width="4.8" height="13.599999999999994" rx="2.4" fill="#f2f2f2"/>
<rect x="368.5" y="218.0" width="2.4" height="2.4" rx="1" fill="#8d8d8d"/>
<rect x="377.4" y="211.8" width="6.4" height="14.799999999999994" rx="3.2" fill="#1e2a44"/>
<rect x="378.2" y="212.4" width="4.8" height="13.599999999999994" rx="2.4" fill="#f2f2f2"/>
<rect x="379.4" y="218.0" width="2.4" height="2.4" rx="1" fill="#8d8d8d"/>
<rect x="387.9" y="211.8" width="6.4" height="14.799999999999994" rx="3.2" fill="#1e2a44"/>
<rect x="388.7" y="212.4" width="4.8" height="13.599999999999994" rx="2.4" fill="#f2f2f2"/>
<rect x="389.9" y="218.0" width="2.4" height="2.4" rx="1" fill="#8d8d8d"/>
<rect x="398.8" y="211.8" width="6.4" height="14.799999999999994" rx="3.2" fill="#1e2a44"/>
<rect x="399.6" y="212.4" width="4.8" height="13.599999999999994" rx="2.4" fill="#f2f2f2"/>
<rect x="400.8" y="218.0" width="2.4" height="2.4" rx="1" fill="#8d8d8d"/>
<rect x="366.3" y="254.4" width="6.800000000000001" height="24.2" rx="3.4000000000000004" fill="#1e2a44"/>
<rect x="367.1" y="255" width="5.2" height="23" rx="2.6" fill="#f2f2f2"/>
<rect x="368.3" y="265.3" width="2.8000000000000003" height="2.4" rx="1" fill="#8d8d8d"/>
<rect x="377.2" y="254.4" width="6.800000000000001" height="24.2" rx="3.4000000000000004" fill="#1e2a44"/>
<rect x="378.0" y="255" width="5.2" height="23" rx="2.6" fill="#f2f2f2"/>
<rect x="379.2" y="265.3" width="2.8000000000000003" height="2.4" rx="1" fill="#8d8d8d"/>
<rect x="387.7" y="254.4" width="6.800000000000001" height="24.2" rx="3.4000000000000004" fill="#1e2a44"/>
<rect x="388.5" y="255" width="5.2" height="23" rx="2.6" fill="#f2f2f2"/>
<rect x="389.7" y="265.3" width="2.8000000000000003" height="2.4" rx="1" fill="#8d8d8d"/>
<rect x="398.6" y="254.4" width="6.800000000000001" height="24.2" rx="3.4000000000000004" fill="#1e2a44"/>
<rect x="399.4" y="255" width="5.2" height="23" rx="2.6" fill="#f2f2f2"/>
<rect x="400.6" y="265.3" width="2.8000000000000003" height="2.4" rx="1" fill="#8d8d8d"/>
<rect x="365.4" y="225" width="41.200000000000045" height="31.5" fill="#1c1c1e"/>
<rect x="366.4" y="226" width="39.200000000000045" height="28.5" fill="#323234"/>
<rect x="370" y="229" width="2.2" height="21" fill="#707070"/>
<rect x="530.8" y="211.8" width="6.4" height="16.799999999999994" rx="3.2" fill="#1e2a44"/>
<rect x="531.6" y="212.4" width="4.8" height="15.599999999999994" rx="2.4" fill="#f2f2f2"/>
<rect x="532.8" y="219.0" width="2.4" height="2.4" rx="1" fill="#8d8d8d"/>
<rect x="541.8" y="211.8" width="6.4" height="16.799999999999994" rx="3.2" fill="#1e2a44"/>
<rect x="542.6" y="212.4" width="4.8" height="15.599999999999994" rx="2.4" fill="#f2f2f2"/>
<rect x="543.8" y="219.0" width="2.4" height="2.4" rx="1" fill="#8d8d8d"/>
<rect x="552.3" y="211.8" width="6.4" height="16.799999999999994" rx="3.2" fill="#1e2a44"/>
<rect x="553.1" y="212.4" width="4.8" height="15.599999999999994" rx="2.4" fill="#f2f2f2"/>
<rect x="554.3" y="219.0" width="2.4" height="2.4" rx="1" fill="#8d8d8d"/>
<rect x="562.8" y="211.8" width="6.4" height="16.799999999999994" rx="3.2" fill="#1e2a44"/>
<rect x="563.6" y="212.4" width="4.8" height="15.599999999999994" rx="2.4" fill="#f2f2f2"/>
<rect x="564.8" y="219.0" width="2.4" height="2.4" rx="1" fill="#8d8d8d"/>
<rect x="530.6" y="257.4" width="6.800000000000001" height="21.2" rx="3.4000000000000004" fill="#1e2a44"/>
<rect x="531.4" y="258" width="5.2" height="20" rx="2.6" fill="#f2f2f2"/>
<rect x="532.6" y="266.8" width="2.8000000000000003" height="2.4" rx="1" fill="#8d8d8d"/>
<rect x="541.6" y="257.4" width="6.800000000000001" height="21.2" rx="3.4000000000000004" fill="#1e2a44"/>
<rect x="542.4" y="258" width="5.2" height="20" rx="2.6" fill="#f2f2f2"/>
<rect x="543.6" y="266.8" width="2.8000000000000003" height="2.4" rx="1" fill="#8d8d8d"/>
<rect x="552.1" y="257.4" width="6.800000000000001" height="21.2" rx="3.4000000000000004" fill="#1e2a44"/>
<rect x="552.9" y="258" width="5.2" height="20" rx="2.6" fill="#f2f2f2"/>
<rect x="554.1" y="266.8" width="2.8000000000000003" height="2.4" rx="1" fill="#8d8d8d"/>
<rect x="562.6" y="257.4" width="6.800000000000001" height="21.2" rx="3.4000000000000004" fill="#1e2a44"/>
<rect x="563.4" y="258" width="5.2" height="20" rx="2.6" fill="#f2f2f2"/>
<rect x="564.6" y="266.8" width="2.8000000000000003" height="2.4" rx="1" fill="#8d8d8d"/>
<rect x="530" y="227.5" width="41" height="32.0" fill="#1c1c1e"/>
<rect x="531" y="228.5" width="39" height="29.0" fill="#323234"/>
<rect x="534.5" y="231.5" width="2.2" height="21" fill="#707070"/>
<rect x="425.9" y="263.09999999999997" width="7.199999999999999" height="19.50000000000001" rx="3.5999999999999996" fill="#1e2a44"/>
<rect x="426.7" y="263.7" width="5.6" height="18.30000000000001" rx="2.8" fill="#f2f2f2"/>
<rect x="427.9" y="271.7" width="3.1999999999999997" height="2.4" rx="1" fill="#8d8d8d"/>
<rect x="436.8" y="263.09999999999997" width="7.199999999999999" height="19.50000000000001" rx="3.5999999999999996" fill="#1e2a44"/>
<rect x="437.6" y="263.7" width="5.6" height="18.30000000000001" rx="2.8" fill="#f2f2f2"/>
<rect x="438.8" y="271.7" width="3.1999999999999997" height="2.4" rx="1" fill="#8d8d8d"/>
<rect x="447.6" y="263.09999999999997" width="7.199999999999999" height="19.50000000000001" rx="3.5999999999999996" fill="#1e2a44"/>
<rect x="448.4" y="263.7" width="5.6" height="18.30000000000001" rx="2.8" fill="#f2f2f2"/>
<rect x="449.6" y="271.7" width="3.1999999999999997" height="2.4" rx="1" fill="#8d8d8d"/>
<rect x="458.4" y="263.09999999999997" width="7.199999999999999" height="19.50000000000001" rx="3.5999999999999996" fill="#1e2a44"/>
<rect x="459.2" y="263.7" width="5.6" height="18.30000000000001" rx="2.8" fill="#f2f2f2"/>
<rect x="460.4" y="271.7" width="3.1999999999999997" height="2.4" rx="1" fill="#8d8d8d"/>
<rect x="469.4" y="263.09999999999997" width="7.199999999999999" height="19.50000000000001" rx="3.5999999999999996" fill="#1e2a44"/>
<rect x="470.2" y="263.7" width="5.6" height="18.30000000000001" rx="2.8" fill="#f2f2f2"/>
<rect x="471.4" y="271.7" width="3.1999999999999997" height="2.4" rx="1" fill="#8d8d8d"/>
<rect x="479.8" y="263.09999999999997" width="7.199999999999999" height="19.50000000000001" rx="3.5999999999999996" fill="#1e2a44"/>
<rect x="480.6" y="263.7" width="5.6" height="18.30000000000001" rx="2.8" fill="#f2f2f2"/>
<rect x="481.8" y="271.7" width="3.1999999999999997" height="2.4" rx="1" fill="#8d8d8d"/>
<rect x="490.8" y="263.09999999999997" width="7.199999999999999" height="19.50000000000001" rx="3.5999999999999996" fill="#1e2a44"/>
<rect x="491.6" y="263.7" width="5.6" height="18.30000000000001" rx="2.8" fill="#f2f2f2"/>
<rect x="492.8" y="271.7" width="3.1999999999999997" height="2.4" rx="1" fill="#8d8d8d"/>
<rect x="501.6" y="263.09999999999997" width="7.199999999999999" height="19.50000000000001" rx="3.5999999999999996" fill="#1e2a44"/>
<rect x="502.4" y="263.7" width="5.6" height="18.30000000000001" rx="2.8" fill="#f2f2f2"/>
<rect x="503.6" y="271.7" width="3.1999999999999997" height="2.4" rx="1" fill="#8d8d8d"/>
<rect x="425.9" y="341.4" width="7.199999999999999" height="21.899999999999988" rx="3.5999999999999996" fill="#1e2a44"/>
<rect x="426.7" y="342" width="5.6" height="20.69999999999999" rx="2.8" fill="#f2f2f2"/>
<rect x="427.9" y="351.2" width="3.1999999999999997" height="2.4" rx="1" fill="#8d8d8d"/>
<rect x="436.8" y="341.4" width="7.199999999999999" height="21.899999999999988" rx="3.5999999999999996" fill="#1e2a44"/>
<rect x="437.6" y="342" width="5.6" height="20.69999999999999" rx="2.8" fill="#f2f2f2"/>
<rect x="438.8" y="351.2" width="3.1999999999999997" height="2.4" rx="1" fill="#8d8d8d"/>
<rect x="447.6" y="341.4" width="7.199999999999999" height="21.899999999999988" rx="3.5999999999999996" fill="#1e2a44"/>
<rect x="448.4" y="342" width="5.6" height="20.69999999999999" rx="2.8" fill="#f2f2f2"/>
<rect x="449.6" y="351.2" width="3.1999999999999997" height="2.4" rx="1" fill="#8d8d8d"/>
<rect x="458.4" y="341.4" width="7.199999999999999" height="21.899999999999988" rx="3.5999999999999996" fill="#1e2a44"/>
<rect x="459.2" y="342" width="5.6" height="20.69999999999999" rx="2.8" fill="#f2f2f2"/>
<rect x="460.4" y="351.2" width="3.1999999999999997" height="2.4" rx="1" fill="#8d8d8d"/>
<rect x="469.4" y="341.4" width="7.199999999999999" height="21.899999999999988" rx="3.5999999999999996" fill="#1e2a44"/>
<rect x="470.2" y="342" width="5.6" height="20.69999999999999" rx="2.8" fill="#f2f2f2"/>
<rect x="471.4" y="351.2" width="3.1999999999999997" height="2.4" rx="1" fill="#8d8d8d"/>
<rect x="479.8" y="341.4" width="7.199999999999999" height="21.899999999999988" rx="3.5999999999999996" fill="#1e2a44"/>
<rect x="480.6" y="342" width="5.6" height="20.69999999999999" rx="2.8" fill="#f2f2f2"/>
<rect x="481.8" y="351.2" width="3.1999999999999997" height="2.4" rx="1" fill="#8d8d8d"/>
<rect x="490.8" y="341.4" width="7.199999999999999" height="21.899999999999988" rx="3.5999999999999996" fill="#1e2a44"/>
<rect x="491.6" y="342" width="5.6" height="20.69999999999999" rx="2.8" fill="#f2f2f2"/>
<rect x="492.8" y="351.2" width="3.1999999999999997" height="2.4" rx="1" fill="#8d8d8d"/>
<rect x="501.6" y="341.4" width="7.199999999999999" height="21.899999999999988" rx="3.5999999999999996" fill="#1e2a44"/>
<rect x="502.4" y="342" width="5.6" height="20.69999999999999" rx="2.8" fill="#f2f2f2"/>
<rect x="503.6" y="351.2" width="3.1999999999999997" height="2.4" rx="1" fill="#8d8d8d"/>
<rect x="423.8" y="280.6" width="87.80000000000001" height="62.799999999999955" fill="#1c1c1e"/>
<rect x="424.8" y="281.6" width="85.80000000000001" height="59.799999999999955" fill="#323234"/>
<rect x="328.6" y="380.0" width="7.0" height="17.599999999999977" rx="3.5" fill="#1e2a44"/>
<rect x="329.4" y="380.6" width="5.4" height="16.399999999999977" rx="2.7" fill="#f2f2f2"/>
<rect x="330.6" y="387.6" width="3.0000000000000004" height="2.4" rx="1" fill="#8d8d8d"/>
<rect x="339.4" y="380.0" width="7.0" height="17.599999999999977" rx="3.5" fill="#1e2a44"/>
<rect x="340.2" y="380.6" width="5.4" height="16.399999999999977" rx="2.7" fill="#f2f2f2"/>
<rect x="341.4" y="387.6" width="3.0000000000000004" height="2.4" rx="1" fill="#8d8d8d"/>
<rect x="350.3" y="380.0" width="7.0" height="17.599999999999977" rx="3.5" fill="#1e2a44"/>
<rect x="351.1" y="380.6" width="5.4" height="16.399999999999977" rx="2.7" fill="#f2f2f2"/>
<rect x="352.3" y="387.6" width="3.0000000000000004" height="2.4" rx="1" fill="#8d8d8d"/>
<rect x="361.3" y="380.0" width="7.0" height="17.599999999999977" rx="3.5" fill="#1e2a44"/>
<rect x="362.1" y="380.6" width="5.4" height="16.399999999999977" rx="2.7" fill="#f2f2f2"/>
<rect x="363.3" y="387.6" width="3.0000000000000004" height="2.4" rx="1" fill="#8d8d8d"/>
<rect x="372.1" y="380.0" width="7.0" height="17.599999999999977" rx="3.5" fill="#1e2a44"/>
<rect x="372.9" y="380.6" width="5.4" height="16.399999999999977" rx="2.7" fill="#f2f2f2"/>
<rect x="374.1" y="387.6" width="3.0000000000000004" height="2.4" rx="1" fill="#8d8d8d"/>
<rect x="382.9" y="380.0" width="7.0" height="17.599999999999977" rx="3.5" fill="#1e2a44"/>
<rect x="383.7" y="380.6" width="5.4" height="16.399999999999977" rx="2.7" fill="#f2f2f2"/>
<rect x="384.9" y="387.6" width="3.0000000000000004" height="2.4" rx="1" fill="#8d8d8d"/>
<rect x="393.8" y="380.0" width="7.0" height="17.599999999999977" rx="3.5" fill="#1e2a44"/>
<rect x="394.6" y="380.6" width="5.4" height="16.399999999999977" rx="2.7" fill="#f2f2f2"/>
<rect x="395.8" y="387.6" width="3.0000000000000004" height="2.4" rx="1" fill="#8d8d8d"/>
<rect x="404.8" y="380.0" width="7.0" height="17.599999999999977" rx="3.5" fill="#1e2a44"/>
<rect x="405.6" y="380.6" width="5.4" height="16.399999999999977" rx="2.7" fill="#f2f2f2"/>
<rect x="406.8" y="387.6" width="3.0000000000000004" height="2.4" rx="1" fill="#8d8d8d"/>
<rect x="415.5" y="380.0" width="7.0" height="17.599999999999977" rx="3.5" fill="#1e2a44"/>
<rect x="416.3" y="380.6" width="5.4" height="16.399999999999977" rx="2.7" fill="#f2f2f2"/>
<rect x="417.5" y="387.6" width="3.0000000000000004" height="2.4" rx="1" fill="#8d8d8d"/>
<rect x="328.6" y="454.4" width="7.0" height="24.2" rx="3.5" fill="#1e2a44"/>
<rect x="329.4" y="455" width="5.4" height="23" rx="2.7" fill="#f2f2f2"/>
<rect x="330.6" y="465.3" width="3.0000000000000004" height="2.4" rx="1" fill="#8d8d8d"/>
<rect x="339.4" y="454.4" width="7.0" height="24.2" rx="3.5" fill="#1e2a44"/>
<rect x="340.2" y="455" width="5.4" height="23" rx="2.7" fill="#f2f2f2"/>
<rect x="341.4" y="465.3" width="3.0000000000000004" height="2.4" rx="1" fill="#8d8d8d"/>
<rect x="350.3" y="454.4" width="7.0" height="24.2" rx="3.5" fill="#1e2a44"/>
<rect x="351.1" y="455" width="5.4" height="23" rx="2.7" fill="#f2f2f2"/>
<rect x="352.3" y="465.3" width="3.0000000000000004" height="2.4" rx="1" fill="#8d8d8d"/>
<rect x="361.3" y="454.4" width="7.0" height="24.2" rx="3.5" fill="#1e2a44"/>
<rect x="362.1" y="455" width="5.4" height="23" rx="2.7" fill="#f2f2f2"/>
<rect x="363.3" y="465.3" width="3.0000000000000004" height="2.4" rx="1" fill="#8d8d8d"/>
<rect x="372.1" y="454.4" width="7.0" height="24.2" rx="3.5" fill="#1e2a44"/>
<rect x="372.9" y="455" width="5.4" height="23" rx="2.7" fill="#f2f2f2"/>
<rect x="374.1" y="465.3" width="3.0000000000000004" height="2.4" rx="1" fill="#8d8d8d"/>
<rect x="382.9" y="454.4" width="7.0" height="24.2" rx="3.5" fill="#1e2a44"/>
<rect x="383.7" y="455" width="5.4" height="23" rx="2.7" fill="#f2f2f2"/>
<rect x="384.9" y="465.3" width="3.0000000000000004" height="2.4" rx="1" fill="#8d8d8d"/>
<rect x="393.8" y="454.4" width="7.0" height="24.2" rx="3.5" fill="#1e2a44"/>
<rect x="394.6" y="455" width="5.4" height="23" rx="2.7" fill="#f2f2f2"/>
<rect x="395.8" y="465.3" width="3.0000000000000004" height="2.4" rx="1" fill="#8d8d8d"/>
<rect x="404.8" y="454.4" width="7.0" height="24.2" rx="3.5" fill="#1e2a44"/>
<rect x="405.6" y="455" width="5.4" height="23" rx="2.7" fill="#f2f2f2"/>
<rect x="406.8" y="465.3" width="3.0000000000000004" height="2.4" rx="1" fill="#8d8d8d"/>
<rect x="415.5" y="454.4" width="7.0" height="24.2" rx="3.5" fill="#1e2a44"/>
<rect x="416.3" y="455" width="5.4" height="23" rx="2.7" fill="#f2f2f2"/>
<rect x="417.5" y="465.3" width="3.0000000000000004" height="2.4" rx="1" fill="#8d8d8d"/>
<rect x="326.4" y="396" width="99.90000000000003" height="60.30000000000001" fill="#1c1c1e"/>
<rect x="327.4" y="397" width="97.90000000000003" height="57.30000000000001" fill="#323234"/>
<rect x="504.0" y="379.4" width="7.0" height="18.2" rx="3.5" fill="#1e2a44"/>
<rect x="504.8" y="380" width="5.4" height="17" rx="2.7" fill="#f2f2f2"/>
<rect x="506.0" y="387.3" width="3.0000000000000004" height="2.4" rx="1" fill="#8d8d8d"/>
<rect x="515.2" y="379.4" width="7.0" height="18.2" rx="3.5" fill="#1e2a44"/>
<rect x="516.0" y="380" width="5.4" height="17" rx="2.7" fill="#f2f2f2"/>
<rect x="517.2" y="387.3" width="3.0000000000000004" height="2.4" rx="1" fill="#8d8d8d"/>
<rect x="526.0" y="379.4" width="7.0" height="18.2" rx="3.5" fill="#1e2a44"/>
<rect x="526.8" y="380" width="5.4" height="17" rx="2.7" fill="#f2f2f2"/>
<rect x="528.0" y="387.3" width="3.0000000000000004" height="2.4" rx="1" fill="#8d8d8d"/>
<rect x="536.5" y="379.4" width="7.0" height="18.2" rx="3.5" fill="#1e2a44"/>
<rect x="537.3" y="380" width="5.4" height="17" rx="2.7" fill="#f2f2f2"/>
<rect x="538.5" y="387.3" width="3.0000000000000004" height="2.4" rx="1" fill="#8d8d8d"/>
<rect x="547.7" y="379.4" width="7.0" height="18.2" rx="3.5" fill="#1e2a44"/>
<rect x="548.5" y="380" width="5.4" height="17" rx="2.7" fill="#f2f2f2"/>
<rect x="549.7" y="387.3" width="3.0000000000000004" height="2.4" rx="1" fill="#8d8d8d"/>
<rect x="558.5" y="379.4" width="7.0" height="18.2" rx="3.5" fill="#1e2a44"/>
<rect x="559.3" y="380" width="5.4" height="17" rx="2.7" fill="#f2f2f2"/>
<rect x="560.5" y="387.3" width="3.0000000000000004" height="2.4" rx="1" fill="#8d8d8d"/>
<rect x="569.5" y="379.4" width="7.0" height="18.2" rx="3.5" fill="#1e2a44"/>
<rect x="570.3" y="380" width="5.4" height="17" rx="2.7" fill="#f2f2f2"/>
<rect x="571.5" y="387.3" width="3.0000000000000004" height="2.4" rx="1" fill="#8d8d8d"/>
<rect x="580.2" y="379.4" width="7.0" height="18.2" rx="3.5" fill="#1e2a44"/>
<rect x="581.0" y="380" width="5.4" height="17" rx="2.7" fill="#f2f2f2"/>
<rect x="582.2" y="387.3" width="3.0000000000000004" height="2.4" rx="1" fill="#8d8d8d"/>
<rect x="591.0" y="379.4" width="7.0" height="18.2" rx="3.5" fill="#1e2a44"/>
<rect x="591.8" y="380" width="5.4" height="17" rx="2.7" fill="#f2f2f2"/>
<rect x="593.0" y="387.3" width="3.0000000000000004" height="2.4" rx="1" fill="#8d8d8d"/>
<rect x="504.0" y="454.4" width="7.0" height="23.7" rx="3.5" fill="#1e2a44"/>
<rect x="504.8" y="455" width="5.4" height="22.5" rx="2.7" fill="#f2f2f2"/>
<rect x="506.0" y="465.1" width="3.0000000000000004" height="2.4" rx="1" fill="#8d8d8d"/>
<rect x="515.2" y="454.4" width="7.0" height="23.7" rx="3.5" fill="#1e2a44"/>
<rect x="516.0" y="455" width="5.4" height="22.5" rx="2.7" fill="#f2f2f2"/>
<rect x="517.2" y="465.1" width="3.0000000000000004" height="2.4" rx="1" fill="#8d8d8d"/>
<rect x="526.0" y="454.4" width="7.0" height="23.7" rx="3.5" fill="#1e2a44"/>
<rect x="526.8" y="455" width="5.4" height="22.5" rx="2.7" fill="#f2f2f2"/>
<rect x="528.0" y="465.1" width="3.0000000000000004" height="2.4" rx="1" fill="#8d8d8d"/>
<rect x="536.5" y="454.4" width="7.0" height="23.7" rx="3.5" fill="#1e2a44"/>
<rect x="537.3" y="455" width="5.4" height="22.5" rx="2.7" fill="#f2f2f2"/>
<rect x="538.5" y="465.1" width="3.0000000000000004" height="2.4" rx="1" fill="#8d8d8d"/>
<rect x="547.7" y="454.4" width="7.0" height="23.7" rx="3.5" fill="#1e2a44"/>
<rect x="548.5" y="455" width="5.4" height="22.5" rx="2.7" fill="#f2f2f2"/>
<rect x="549.7" y="465.1" width="3.0000000000000004" height="2.4" rx="1" fill="#8d8d8d"/>
<rect x="558.5" y="454.4" width="7.0" height="23.7" rx="3.5" fill="#1e2a44"/>
<rect x="559.3" y="455" width="5.4" height="22.5" rx="2.7" fill="#f2f2f2"/>
<rect x="560.5" y="465.1" width="3.0000000000000004" height="2.4" rx="1" fill="#8d8d8d"/>
<rect x="569.5" y="454.4" width="7.0" height="23.7" rx="3.5" fill="#1e2a44"/>
<rect x="570.3" y="455" width="5.4" height="22.5" rx="2.7" fill="#f2f2f2"/>
<rect x="571.5" y="465.1" width="3.0000000000000004" height="2.4" rx="1" fill="#8d8d8d"/>
<rect x="580.2" y="454.4" width="7.0" height="23.7" rx="3.5" fill="#1e2a44"/>
<rect x="581.0" y="455" width="5.4" height="22.5" rx="2.7" fill="#f2f2f2"/>
<rect x="582.2" y="465.1" width="3.0000000000000004" height="2.4" rx="1" fill="#8d8d8d"/>
<rect x="591.0" y="454.4" width="7.0" height="23.7" rx="3.5" fill="#1e2a44"/>
<rect x="591.8" y="455" width="5.4" height="22.5" rx="2.7" fill="#f2f2f2"/>
<rect x="593.0" y="465.1" width="3.0000000000000004" height="2.4" rx="1" fill="#8d8d8d"/>
<rect x="501.2" y="396.2" width="102.50000000000006" height="60.10000000000002" fill="#1c1c1e"/>
<rect x="502.2" y="397.2" width="100.50000000000006" height="57.10000000000002" fill="#323234"/>
<path d="M303,128 V139.5 H307" stroke="#fff" stroke-width="2" fill="none"/>
<path d="M324.5,128 V139.5 H320.5" stroke="#fff" stroke-width="2" fill="none"/>
<rect x="302" y="124" width="23.5" height="13.2" fill="#1c1c1c"/>
<rect x="301" y="116.5" width="9" height="8.5" fill="#ececec"/><rect x="317.5" y="116.5" width="9" height="8.5" fill="#ececec"/>
<rect x="309.25" y="134.7" width="9" height="8.5" fill="#ececec"/>
<rect x="303" y="118.5" width="5" height="3" fill="#bbb"/><rect x="319.5" y="118.5" width="5" height="3" fill="#bbb"/>
<path d="M613,128 V139.5 H617" stroke="#fff" stroke-width="2" fill="none"/>
<path d="M634.5,128 V139.5 H630.5" stroke="#fff" stroke-width="2" fill="none"/>
<rect x="612" y="124" width="23.5" height="13.2" fill="#1c1c1c"/>
<rect x="611" y="116.5" width="9" height="8.5" fill="#ececec"/><rect x="627.5" y="116.5" width="9" height="8.5" fill="#ececec"/>
<rect x="619.25" y="134.7" width="9" height="8.5" fill="#ececec"/>
<rect x="613" y="118.5" width="5" height="3" fill="#bbb"/><rect x="629.5" y="118.5" width="5" height="3" fill="#bbb"/>
<rect x="270" y="111" width="18.69999999999999" height="38" fill="#fff"/>
<rect x="271.6" y="112.6" width="15.49999999999999" height="34.8" fill="#161616"/>
<rect x="272.6" y="114" width="13.49999999999999" height="8.4" fill="#e6e6e6"/>
<rect x="272.6" y="137.6" width="13.49999999999999" height="8.4" fill="#e6e6e6"/>
<rect x="648.7" y="111" width="17.299999999999955" height="36.5" fill="#fff"/>
<rect x="650.3000000000001" y="112.6" width="14.099999999999955" height="33.3" fill="#161616"/>
<rect x="651.3000000000001" y="114" width="12.099999999999955" height="8.0" fill="#e6e6e6"/>
<rect x="651.3000000000001" y="136.5" width="12.099999999999955" height="8.0" fill="#e6e6e6"/>
<rect x="344.2" y="233" width="14.300000000000011" height="25.30000000000001" fill="#fff"/>
<rect x="345.8" y="234.6" width="11.100000000000012" height="22.100000000000012" fill="#161616"/>
<rect x="346.8" y="236" width="9.100000000000012" height="5.6" fill="#e6e6e6"/>
<rect x="346.8" y="249.7" width="9.100000000000012" height="5.6" fill="#e6e6e6"/>
<rect x="507.5" y="232.5" width="12.5" height="25.0" fill="#fff"/>
<rect x="509.1" y="234.1" width="9.3" height="21.8" fill="#161616"/>
<rect x="510.1" y="235.5" width="7.3" height="5.5" fill="#e6e6e6"/>
<rect x="510.1" y="249.0" width="7.3" height="5.5" fill="#e6e6e6"/>
<rect x="394.8" y="287.9" width="26.599999999999966" height="12.800000000000011" rx="5.4" fill="#fff"/>
<rect x="396.3" y="289.4" width="23.599999999999966" height="9.800000000000011" rx="3.9" fill="#1d3c7c"/>
<rect x="399.6" y="290.2" width="17.0" height="8.200000000000012" fill="#f2f2f2"/>
<rect x="404.4" y="290.2" width="7.4" height="8.200000000000012" fill="#b87840"/>
<rect x="394.8" y="329" width="26.599999999999966" height="12.800000000000011" rx="5.4" fill="#fff"/>
<rect x="396.3" y="330.5" width="23.599999999999966" height="9.800000000000011" rx="3.9" fill="#1d3c7c"/>
<rect x="399.6" y="331.3" width="17.0" height="8.200000000000012" fill="#f2f2f2"/>
<rect x="404.4" y="331.3" width="7.4" height="8.200000000000012" fill="#b87840"/>
<rect x="611" y="203" width="26.5" height="11.599999999999994" rx="4.9" fill="#fff"/>
<rect x="612.5" y="204.5" width="23.5" height="8.599999999999994" rx="3.4" fill="#1d3c7c"/>
<rect x="615.8" y="205.3" width="17.0" height="6.999999999999995" fill="#f2f2f2"/>
<rect x="620.5" y="205.3" width="7.4" height="6.999999999999995" fill="#f2e4b0"/>
<rect x="612" y="251.5" width="25.5" height="13.199999999999989" rx="5.5" fill="#fff"/>
<rect x="613.5" y="253.0" width="22.5" height="10.199999999999989" rx="4.0" fill="#1d3c7c"/>
<rect x="616.6" y="253.8" width="16.3" height="8.599999999999989" fill="#f2f2f2"/>
<rect x="621.2" y="253.8" width="7.1" height="8.599999999999989" fill="#a86a3a"/>
<rect x="610" y="268" width="32.700000000000045" height="13.399999999999977" rx="5.6" fill="#fff"/>
<rect x="611.5" y="269.5" width="29.700000000000045" height="10.399999999999977" rx="4.1" fill="#1d3c7c"/>
<rect x="615.9" y="270.3" width="20.9" height="8.799999999999978" fill="#f2f2f2"/>
<rect x="621.8" y="270.3" width="9.2" height="8.799999999999978" fill="#c8a060"/>
<rect x="610" y="285" width="32.700000000000045" height="13" rx="5.5" fill="#fff"/>
<rect x="611.5" y="286.5" width="29.700000000000045" height="10" rx="4.0" fill="#1d3c7c"/>
<rect x="615.9" y="287.3" width="20.9" height="8.4" fill="#f2f2f2"/>
<rect x="621.8" y="287.3" width="9.2" height="8.4" fill="#a06a40"/>
<rect x="610" y="326" width="32.700000000000045" height="14.399999999999977" rx="6.0" fill="#fff"/>
<rect x="611.5" y="327.5" width="29.700000000000045" height="11.399999999999977" rx="4.5" fill="#1d3c7c"/>
<rect x="615.9" y="328.3" width="20.9" height="9.799999999999978" fill="#f2f2f2"/>
<rect x="621.8" y="328.3" width="9.2" height="9.799999999999978" fill="#a87040"/>
<rect x="610" y="343" width="32.700000000000045" height="15" rx="6.3" fill="#fff"/>
<rect x="611.5" y="344.5" width="29.700000000000045" height="12" rx="4.8" fill="#1d3c7c"/>
<rect x="615.9" y="345.3" width="20.9" height="10.4" fill="#f2f2f2"/>
<rect x="621.8" y="345.3" width="9.2" height="10.4" fill="#c8a060"/>
<rect x="613.7" y="361.5" width="25.299999999999955" height="11.5" rx="4.8" fill="#fff"/>
<rect x="615.2" y="363.0" width="22.299999999999955" height="8.5" rx="3.3" fill="#1d3c7c"/>
<rect x="618.3" y="363.8" width="16.2" height="6.9" fill="#f2f2f2"/>
<rect x="622.8" y="363.8" width="7.1" height="6.9" fill="#f2e4b0"/>
<rect x="613.9" y="411.5" width="25.700000000000045" height="11.899999999999977" rx="5.0" fill="#fff"/>
<rect x="615.4" y="413.0" width="22.700000000000045" height="8.899999999999977" rx="3.5" fill="#1d3c7c"/>
<rect x="618.5" y="413.8" width="16.4" height="7.299999999999978" fill="#f2f2f2"/>
<rect x="623.2" y="413.8" width="7.2" height="7.299999999999978" fill="#a87040"/>
<rect x="613.9" y="426.7" width="25.700000000000045" height="11.900000000000034" rx="5.0" fill="#fff"/>
<rect x="615.4" y="428.2" width="22.700000000000045" height="8.900000000000034" rx="3.5" fill="#1d3c7c"/>
<rect x="618.5" y="429.0" width="16.4" height="7.3000000000000345" fill="#f2f2f2"/>
<rect x="623.2" y="429.0" width="7.2" height="7.3000000000000345" fill="#c8a060"/>
<rect x="614.5" y="440.6" width="25" height="12.5" fill="#fff"/><rect x="616.2" y="442.2" width="21.6" height="9.3" fill="#151515"/><rect x="617.5" y="443.5" width="4" height="6.7" fill="#ddd"/><rect x="632.5" y="443.5" width="4" height="6.7" fill="#ddd"/>
<rect x="619" y="404.3" width="15" height="2" fill="#fff"/><rect x="618" y="244.5" width="14" height="2" fill="#fff"/>
<rect x="286.2" y="391" width="35.0" height="17.69999999999999" rx="7.4" fill="#fff"/>
<rect x="287.7" y="392.5" width="32.0" height="14.699999999999989" rx="5.9" fill="#1d3c7c"/>
<rect x="293.2" y="393.6" width="21.0" height="12.49999999999999" fill="#eadfd6"/>
<rect x="293.2" y="393.6" width="21.0" height="1.5" fill="#fff" opacity="0.5"/>
<rect x="286.2" y="452.5" width="35.0" height="17.5" rx="7.3" fill="#fff"/>
<rect x="287.7" y="454.0" width="32.0" height="14.5" rx="5.8" fill="#1d3c7c"/>
<rect x="293.2" y="455.1" width="21.0" height="12.3" fill="#eadfd6"/>
<rect x="293.2" y="455.1" width="21.0" height="1.5" fill="#fff" opacity="0.5"/>
<rect x="459.8" y="391" width="34.39999999999998" height="16.80000000000001" rx="7.1" fill="#fff"/>
<rect x="461.3" y="392.5" width="31.399999999999977" height="13.800000000000011" rx="5.6" fill="#1d3c7c"/>
<rect x="466.7" y="393.6" width="20.6" height="11.600000000000012" fill="#efefef"/>
<rect x="466.7" y="393.6" width="20.6" height="1.5" fill="#fff" opacity="0.5"/>
<rect x="459.8" y="453.2" width="34.39999999999998" height="16.100000000000023" rx="6.8" fill="#fff"/>
<rect x="461.3" y="454.7" width="31.399999999999977" height="13.100000000000023" rx="5.3" fill="#1d3c7c"/>
<rect x="466.7" y="455.8" width="20.6" height="10.900000000000023" fill="#eadfd6"/>
<rect x="466.7" y="455.8" width="20.6" height="1.5" fill="#fff" opacity="0.5"/>
<rect x="414" y="228" width="17.3" height="35" rx="8.6" fill="#fff"/><rect x="415.6" y="229.6" width="14.1" height="31.8" rx="7" fill="#1b1b1d"/><rect x="417" y="236" width="11.3" height="20" fill="#f2ecd8"/><rect x="417" y="243" width="11.3" height="8" fill="#f6e8a8"/>
<rect x="579" y="229" width="15" height="31" rx="7.5" fill="#fff"/><rect x="580.5" y="230.5" width="12" height="28" rx="6" fill="#1b1b1d"/><rect x="582" y="236" width="9" height="16" fill="#f2ecd8"/>
<rect x="290" y="412.5" width="28.69999999999999" height="36.19999999999999" fill="#fff"/>
<rect x="291.8" y="414.3" width="25.099999999999987" height="32.59999999999999" fill="#1d3c7c"/>
<rect x="292.5" y="415.5" width="23.69999999999999" height="30.19999999999999" fill="#c49a3a"/>
<rect x="293.3" y="416.1" width="22.399999999999988" height="27.99999999999999" fill="#d8d0c8"/>
<rect x="297" y="421.5" width="14.699999999999989" height="18.19999999999999" fill="#e4ddd6"/>
<rect x="462" y="412.2" width="30" height="36.60000000000002" fill="#fff"/>
<rect x="463.8" y="414.0" width="26.4" height="33.00000000000002" fill="#1d3c7c"/>
<rect x="464.5" y="415.2" width="25" height="30.600000000000023" fill="#c49a3a"/>
<rect x="465.3" y="415.8" width="23.7" height="28.400000000000023" fill="#d8d0c8"/>
<rect x="469" y="421.2" width="16" height="18.600000000000023" fill="#e4ddd6"/>
<rect x="610" y="222" width="10" height="5" rx="1.5" fill="#f0f0f0"/>
<rect x="610" y="234.7" width="10" height="5" rx="1.5" fill="#f0f0f0"/>
<rect x="631" y="221" width="9" height="5" rx="1.5" fill="#f0f0f0"/>
<rect x="631" y="227.85" width="9" height="5" rx="1.5" fill="#f0f0f0"/>
<rect x="631" y="234.7" width="9" height="5" rx="1.5" fill="#f0f0f0"/>
<rect x="618" y="218" width="15" height="24.69999999999999" rx="1" fill="#1e1e20"/>
<rect x="611" y="382" width="10" height="5" rx="1.5" fill="#f0f0f0"/>
<rect x="611" y="394.8" width="10" height="5" rx="1.5" fill="#f0f0f0"/>
<rect x="632" y="381" width="9" height="5" rx="1.5" fill="#f0f0f0"/>
<rect x="632" y="387.9" width="9" height="5" rx="1.5" fill="#f0f0f0"/>
<rect x="632" y="394.8" width="9" height="5" rx="1.5" fill="#f0f0f0"/>
<rect x="619" y="378" width="15" height="24.80000000000001" rx="1" fill="#1e1e20"/>
<rect x="358.7" y="482" width="35.80000000000001" height="24.5" fill="#fff"/>
<rect x="361.3" y="484" width="9.4" height="20.5" fill="#151515"/>
<rect x="362.3" y="485" width="7.4" height="4" fill="#dcdcdc"/><rect x="362.3" y="499.5" width="7.4" height="4" fill="#dcdcdc"/>
<rect x="371.9" y="484" width="9.4" height="20.5" fill="#151515"/>
<rect x="372.9" y="485" width="7.4" height="4" fill="#dcdcdc"/><rect x="372.9" y="499.5" width="7.4" height="4" fill="#dcdcdc"/>
<rect x="382.5" y="484" width="9.4" height="20.5" fill="#151515"/>
<rect x="383.5" y="485" width="7.4" height="4" fill="#dcdcdc"/><rect x="383.5" y="499.5" width="7.4" height="4" fill="#dcdcdc"/>
<rect x="537" y="481.3" width="35.700000000000045" height="25.19999999999999" fill="#fff"/>
<rect x="539.6" y="483.3" width="9.4" height="21.19999999999999" fill="#151515"/>
<rect x="540.6" y="484.3" width="7.4" height="4" fill="#dcdcdc"/><rect x="540.6" y="499.5" width="7.4" height="4" fill="#dcdcdc"/>
<rect x="550.2" y="483.3" width="9.4" height="21.19999999999999" fill="#151515"/>
<rect x="551.2" y="484.3" width="7.4" height="4" fill="#dcdcdc"/><rect x="551.2" y="499.5" width="7.4" height="4" fill="#dcdcdc"/>
<rect x="560.7" y="483.3" width="9.4" height="21.19999999999999" fill="#151515"/>
<rect x="561.7" y="484.3" width="7.4" height="4" fill="#dcdcdc"/><rect x="561.7" y="499.5" width="7.4" height="4" fill="#dcdcdc"/>
<rect x="718.5" y="431" width="33.7" height="16" fill="#fff"/><rect x="720.3" y="432.8" width="30.1" height="12.4" fill="#1a1a1a"/><rect x="724" y="433.5" width="22.7" height="11" fill="#f4f4f4"/><rect x="728" y="435" width="14" height="8" fill="#dcdcdc"/>
<text class="ct" x="449.6" y="301.8" font-size="9.8" textLength="46" lengthAdjust="spacing" text-anchor="start" style="fill:#8a8a8a">SI8642ED</text>
<text class="ct" x="439" y="313" font-size="9.8" textLength="55.7" lengthAdjust="spacing" text-anchor="start" style="fill:#8a8a8a">2007B01GC1</text>
<circle cx="468" cy="320.5" r="6.3" fill="none" stroke="#8a8a8a" stroke-width="1"/>
<text class="ct" x="463.5" y="323.8" font-size="8" textLength="9" lengthAdjust="spacing" text-anchor="start" style="fill:#8a8a8a">e4</text>
<text class="ct" x="484" y="324.3" font-size="9.8" textLength="11.5" lengthAdjust="spacing" text-anchor="start" style="fill:#8a8a8a">TH</text>
<circle cx="433.5" cy="329.7" r="3" fill="#3c3c3e" stroke="#2a2a2a" stroke-width="0.8"/>
<text class="ct" x="386" y="416" font-size="10.5" textLength="44.3" lengthAdjust="spacing" text-anchor="start" style="fill:#8a8a8a" transform="rotate(180 386 416)">194350.Y</text>
<text class="ct" x="407" y="439.4" font-size="11.5" textLength="44.3" lengthAdjust="spacing" text-anchor="start" style="fill:#8a8a8a" transform="rotate(180 407 439.4)">MCP2515</text>
<text class="ct" x="395.7" y="429.8" font-size="10" textLength="17.7" lengthAdjust="spacing" text-anchor="start" style="fill:#8a8a8a" transform="rotate(180 395.7 429.8)">I/SO</text>
<circle cx="380.5" cy="433.5" r="4.8" fill="none" stroke="#8a8a8a" stroke-width="0.9"/>
<circle cx="396.5" cy="417.7" r="6.3" fill="#7e7e7e"/><path d="M392,421 q0,-7 4.5,-7 q4.5,0 4.5,7 M394.5,421 v-4 q2,-2 4,0 v4" stroke="#323234" stroke-width="1.4" fill="none"/>
<text class="ct" x="555" y="415.2" font-size="10.5" textLength="37.5" lengthAdjust="spacing" text-anchor="start" style="fill:#8a8a8a" transform="rotate(180 555 415.2)">194350.Y</text>
<text class="ct" x="583.7" y="437.5" font-size="11.5" textLength="45" lengthAdjust="spacing" text-anchor="start" style="fill:#8a8a8a" transform="rotate(180 583.7 437.5)">MCP2515</text>
<text class="ct" x="576" y="426" font-size="10" textLength="16" lengthAdjust="spacing" text-anchor="start" style="fill:#8a8a8a" transform="rotate(180 576 426)">I/SO</text>
<circle cx="558" cy="430" r="4.8" fill="none" stroke="#8a8a8a" stroke-width="0.9"/>
<circle cx="573.7" cy="416.3" r="6.3" fill="#7e7e7e"/><path d="M569.2,419.6 q0,-7 4.5,-7 q4.5,0 4.5,7 M571.7,419.6 v-4 q2,-2 4,0 v4" stroke="#323234" stroke-width="1.4" fill="none"/>
<text class="ct" x="374.5" y="235.5" font-size="7.5" textLength="26.4" lengthAdjust="spacing" text-anchor="start" style="fill:#8a8a8a">VP230</text>
<text class="ct" x="374.5" y="242" font-size="7" textLength="26.4" lengthAdjust="spacing" text-anchor="start" style="fill:#8a8a8a">4x   H</text>
<text class="ct" x="374.5" y="250.4" font-size="7.5" textLength="26.4" lengthAdjust="spacing" text-anchor="start" style="fill:#8a8a8a">A4DG</text>
<text class="ct" x="539" y="237.5" font-size="7.5" textLength="26" lengthAdjust="spacing" text-anchor="start" style="fill:#8a8a8a">VP230</text>
<text class="ct" x="539" y="244" font-size="7" textLength="26" lengthAdjust="spacing" text-anchor="start" style="fill:#8a8a8a">4x   H</text>
<text class="ct" x="539" y="252.4" font-size="7.5" textLength="26" lengthAdjust="spacing" text-anchor="start" style="fill:#8a8a8a">A4DG</text>
<g id="silktext">
<text class="sk" x="228" y="177.5" font-size="13" textLength="18.7" lengthAdjust="spacingAndGlyphs">ON</text>
<text class="sk" x="228.5" y="199.3" font-size="13" textLength="28.8" lengthAdjust="spacingAndGlyphs">120R</text>
<text class="sk" x="228.5" y="220.4" font-size="13" textLength="24.6" lengthAdjust="spacingAndGlyphs">OFF</text>
<text class="sk" x="708.8" y="178.2" font-size="13" textLength="17.8" lengthAdjust="spacingAndGlyphs">ON</text>
<text class="sk" x="698.3" y="199.3" font-size="13" textLength="28.3" lengthAdjust="spacingAndGlyphs">120R</text>
<text class="sk" x="703.6" y="220.4" font-size="13" textLength="23" lengthAdjust="spacingAndGlyphs">OFF</text>
<text class="sk" x="721" y="427.7" font-size="13" textLength="31.2" lengthAdjust="spacingAndGlyphs">PWR</text>
<text class="sk" x="708.4" y="468" font-size="13" textLength="22.7" lengthAdjust="spacingAndGlyphs">3V3</text>
<text class="sk" x="710" y="490" font-size="13" textLength="21" lengthAdjust="spacingAndGlyphs">VIO</text>
<text class="sk" x="715" y="511.8" font-size="13" textLength="16" lengthAdjust="spacingAndGlyphs">5V</text>
<text class="sk" x="231.5" y="339.6" font-size="13" textLength="26.1" lengthAdjust="spacingAndGlyphs">INT1</text>
<text class="sk" x="231.5" y="361.3" font-size="13" textLength="27.2" lengthAdjust="spacingAndGlyphs">INT0</text>
<text class="sk" x="231.5" y="382.7" font-size="13" textLength="23.4" lengthAdjust="spacingAndGlyphs">CS1</text>
<text class="sk" x="231.5" y="404" font-size="13" textLength="24.1" lengthAdjust="spacingAndGlyphs">CS0</text>
<text class="sk" x="231.5" y="426.1" font-size="13" textLength="25.4" lengthAdjust="spacingAndGlyphs">SCK</text>
<text class="sk" x="231.5" y="447.8" font-size="13" textLength="31" lengthAdjust="spacingAndGlyphs">MOSI</text>
<text class="sk" x="231.5" y="468.8" font-size="13" textLength="31.8" lengthAdjust="spacingAndGlyphs">MISO</text>
<text class="sk" x="231.5" y="492.1" font-size="13" textLength="27.8" lengthAdjust="spacingAndGlyphs">GND</text>
<text class="sk" x="231.5" y="513" font-size="13" textLength="14.9" lengthAdjust="spacingAndGlyphs">5V</text>
<text class="sk" x="361" y="206" font-size="11.5" textLength="8.4" lengthAdjust="spacingAndGlyphs">H</text>
<text class="sk" x="383" y="206" font-size="11.5" textLength="6.5" lengthAdjust="spacingAndGlyphs">L</text>
<text class="sk" x="405" y="206" font-size="11.5" textLength="8.3" lengthAdjust="spacingAndGlyphs">G</text>
<text class="sk" x="525" y="206" font-size="11.5" textLength="7.5" lengthAdjust="spacingAndGlyphs">H</text>
<text class="sk" x="547.5" y="206" font-size="11.5" textLength="6.5" lengthAdjust="spacingAndGlyphs">L</text>
<text class="sk" x="567.5" y="206" font-size="11.5" textLength="10" lengthAdjust="spacingAndGlyphs">G</text>
<text class="sk" x="0" y="0" font-size="22.5" textLength="48.6" lengthAdjust="spacingAndGlyphs" transform="translate(438.5,110.6) rotate(90)">CAN1</text>
<text class="sk" x="0" y="0" font-size="22.5" textLength="49" lengthAdjust="spacingAndGlyphs" transform="translate(485.5,111) rotate(90)">CAN0</text>
</g>
<g fill="#f2293f">
<rect x="478.3" y="22" width="142" height="49" rx="9"/>
<rect x="177.3" y="609.5" width="259.6" height="48.2" rx="9"/>
<rect x="496.2" y="609.6" width="303.5" height="48.1" rx="9"/>
</g>
<g stroke="#f2293f" stroke-width="2.5" fill="none">
<path d="M552.9,71 V123.1 H383.8"/>
<path d="M377.9,609.5 V429.3 H552.9"/>
<path d="M608.7,609.6 V241 H387.6"/>
</g>
<g fill="#f2293f">
<circle cx="383.8" cy="123.1" r="5.9"/>
<circle cx="552.9" cy="123.1" r="5.9"/>
<circle cx="387.6" cy="241" r="5.9"/>
<circle cx="554.2" cy="241" r="5.9"/>
<circle cx="377.9" cy="429.2" r="5.9"/>
<circle cx="552.9" cy="429.4" r="5.9"/>
</g>
<text class="lb" x="495.3" y="56" font-size="27" textLength="111.5" lengthAdjust="spacingAndGlyphs">2-CH CAN</text>
<text class="lb" x="191.8" y="642" font-size="22.5" textLength="235.5" lengthAdjust="spacingAndGlyphs">MCP2515 CONTROLLER</text>
<text class="lb" x="509.5" y="642" font-size="23" textLength="280.5" lengthAdjust="spacingAndGlyphs">SN65HVD230 TRANSCEIVER</text>
</svg>
</body></html>
